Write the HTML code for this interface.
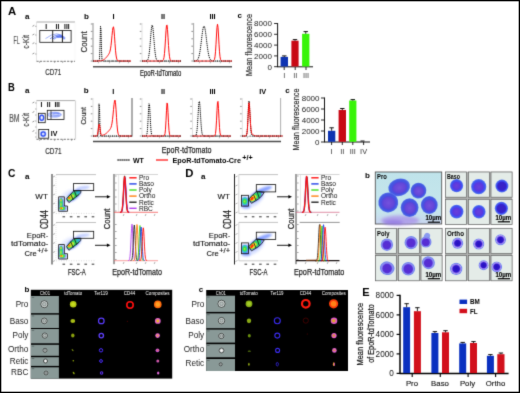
<!DOCTYPE html>
<html><head><meta charset="utf-8"><title>Figure</title>
<style>
html,body{margin:0;padding:0;background:#fff;}
body{width:520px;height:393px;overflow:hidden;font-family:"Liberation Sans",sans-serif;}
svg{display:block;}
text{font-family:"Liberation Sans",sans-serif;}
</style></head><body>
<svg width="520" height="393" viewBox="0 0 520 393">
<defs>
<filter id="b1" x="-30%" y="-30%" width="160%" height="160%"><feGaussianBlur stdDeviation="0.8"/></filter>
<filter id="b05" x="-30%" y="-30%" width="160%" height="160%"><feGaussianBlur stdDeviation="0.45"/></filter>
<filter id="b2" x="-30%" y="-30%" width="160%" height="160%"><feGaussianBlur stdDeviation="1.4"/></filter>
<filter id="soft" x="0" y="0" width="520" height="393" filterUnits="userSpaceOnUse" color-interpolation-filters="sRGB"><feConvolveMatrix order="3" kernelMatrix="0.025 0.155 0.025 0.155 1 0.155 0.025 0.155 0.025" divisor="1.72" edgeMode="duplicate" preserveAlpha="false"/></filter>

<radialGradient id="gPro"><stop offset="0" stop-color="#4a50e0"/><stop offset="0.85" stop-color="#4456e2"/><stop offset="1" stop-color="#5a7cea"/></radialGradient>
<radialGradient id="gProN"><stop offset="0" stop-color="#7452dc"/><stop offset="0.7" stop-color="#6446d8"/><stop offset="1" stop-color="#4a48de"/></radialGradient>
<radialGradient id="gBaso"><stop offset="0" stop-color="#5040e0"/><stop offset="0.8" stop-color="#4050f0"/><stop offset="1" stop-color="#5a80f0"/></radialGradient>
<radialGradient id="gBasoN"><stop offset="0" stop-color="#6a40d8"/><stop offset="0.8" stop-color="#5838e0"/><stop offset="1" stop-color="#4848ee"/></radialGradient>
<radialGradient id="gBasoD"><stop offset="0" stop-color="#3a20c4"/><stop offset="0.8" stop-color="#3422cc"/><stop offset="1" stop-color="#3a40e8"/></radialGradient>
<radialGradient id="gPoly"><stop offset="0" stop-color="#8068e0"/><stop offset="0.8" stop-color="#8c8cf0"/><stop offset="0.93" stop-color="#7088ee"/><stop offset="1" stop-color="#7c98f0"/></radialGradient>
<radialGradient id="gPolyN"><stop offset="0" stop-color="#5a2cd0"/><stop offset="0.85" stop-color="#5430d6"/><stop offset="1" stop-color="#6a50e2"/></radialGradient>
<radialGradient id="gOrtho"><stop offset="0" stop-color="#2810bc"/><stop offset="0.52" stop-color="#3018cc"/><stop offset="0.64" stop-color="#7a60e8"/><stop offset="0.8" stop-color="#b09ceE"/><stop offset="0.9" stop-color="#6c84f2"/><stop offset="1" stop-color="#8aa4f4"/></radialGradient>
<linearGradient id="gProBg" x1="0" y1="0" x2="0" y2="1"><stop offset="0" stop-color="#bfe3ea"/><stop offset="0.75" stop-color="#c6e6ec"/><stop offset="1" stop-color="#c8d4ee"/></linearGradient>

</defs>
<rect x="0" y="0" width="520" height="393" fill="#fff"/>
<g id="all" filter="url(#soft)">
<text x="8" y="15.1" font-size="11.3" font-weight="bold" text-anchor="start" fill="#000" >A</text>
<text x="24.9" y="19.0" font-size="8" font-weight="bold" text-anchor="start" fill="#000" >a</text>
<line x1="36.5" y1="22" x2="75" y2="22" stroke="#888" stroke-width="0.7" />
<line x1="75" y1="22" x2="75" y2="61" stroke="#eee" stroke-width="0.5" />
<line x1="36.5" y1="22" x2="36.5" y2="61" stroke="#ccc" stroke-width="0.5" />
<line x1="36.5" y1="61.3" x2="75" y2="61.3" stroke="#555" stroke-width="0.8" stroke-dasharray="2.2 1.2"/>
<line x1="32.5" y1="26.3" x2="34.3" y2="25.3" stroke="#444" stroke-width="0.6" />
<line x1="35.0" y1="26.3" x2="36.5" y2="26.3" stroke="#666" stroke-width="0.5" />
<line x1="32.5" y1="35" x2="34.3" y2="34" stroke="#444" stroke-width="0.6" />
<line x1="35.0" y1="35" x2="36.5" y2="35" stroke="#666" stroke-width="0.5" />
<line x1="32.5" y1="43.7" x2="34.3" y2="42.7" stroke="#444" stroke-width="0.6" />
<line x1="35.0" y1="43.7" x2="36.5" y2="43.7" stroke="#666" stroke-width="0.5" />
<line x1="32.5" y1="54" x2="34.3" y2="53" stroke="#444" stroke-width="0.6" />
<line x1="35.0" y1="54" x2="36.5" y2="54" stroke="#666" stroke-width="0.5" />
<line x1="40" y1="61" x2="39.5" y2="63" stroke="#666" stroke-width="0.5" />
<line x1="55" y1="61" x2="54.5" y2="63" stroke="#666" stroke-width="0.5" />
<line x1="63" y1="61" x2="62.5" y2="63" stroke="#666" stroke-width="0.5" />
<line x1="72" y1="61" x2="71.5" y2="63" stroke="#666" stroke-width="0.5" />
<g filter="url(#b05)">
<path d="M45.5,38.6 Q57.5,29.5 65.5,38.0" fill="none" stroke="#4060f0" stroke-width="0.9" opacity="0.55"/>
<path d="M50,38.84 Q59.5,31.06 65,38.6" fill="none" stroke="#4060f0" stroke-width="0.9" opacity="0.75"/>
<path d="M52.5,39.06 Q60.5,32.49 64.5,39.15" fill="none" stroke="#4060f0" stroke-width="0.9" opacity="0.85"/>
<path d="M54,39.26 Q61.0,33.79 64,39.65" fill="none" stroke="#4060f0" stroke-width="0.9" opacity="0.6"/>
<ellipse cx="59.5" cy="36.8" rx="3.2" ry="1.3" fill="#4060f0" stroke="none" stroke-width="1" opacity="0.6"/>
</g>
<rect x="39.8" y="30.5" width="31.3" height="11.8" fill="none" stroke="#111" stroke-width="0.8" />
<line x1="52.7" y1="30.5" x2="52.7" y2="42.3" stroke="#111" stroke-width="0.9" />
<line x1="62.4" y1="30.5" x2="62.4" y2="42.3" stroke="#111" stroke-width="1.0" />
<text x="46.2" y="28.7" font-size="6.6" font-weight="bold" text-anchor="middle" fill="#000" >I</text>
<text x="57.4" y="28.7" font-size="6.6" font-weight="bold" text-anchor="middle" fill="#000" >II</text>
<text x="66.8" y="28.7" font-size="6.6" font-weight="bold" text-anchor="middle" fill="#000" >III</text>
<text x="13.6" y="44.4" font-size="10" font-weight="normal" text-anchor="start" fill="#555" textLength="6.1" lengthAdjust="spacingAndGlyphs"  stroke="#555" stroke-width="0.2">FL</text>
<text x="28.8" y="48.8" font-size="9.5" font-weight="normal" text-anchor="start" fill="#444" textLength="13.8" lengthAdjust="spacingAndGlyphs" transform="rotate(-90 28.8 48.8)"  stroke="#444" stroke-width="0.2">c-Kit</text>
<text x="45.3" y="75" font-size="9.2" font-weight="normal" text-anchor="start" fill="#333" textLength="16" lengthAdjust="spacingAndGlyphs"  stroke="#333" stroke-width="0.2">CD71</text>
<text x="84" y="18.8" font-size="8" font-weight="bold" text-anchor="start" fill="#000" >b</text>
<text x="113.5" y="19.2" font-size="7.4" font-weight="bold" text-anchor="middle" fill="#000" >I</text>
<text x="163" y="19.2" font-size="7.4" font-weight="bold" text-anchor="middle" fill="#000" >II</text>
<text x="212.5" y="19.2" font-size="7.4" font-weight="bold" text-anchor="middle" fill="#000" >III</text>
<text x="87" y="52.4" font-size="9" font-weight="normal" text-anchor="start" fill="#333" textLength="21" lengthAdjust="spacingAndGlyphs" transform="rotate(-90 87 52.4)"  stroke="#333" stroke-width="0.2">Count</text>
<line x1="93" y1="23" x2="93" y2="62.0" stroke="#444" stroke-width="0.6" />
<line x1="93" y1="61.5" x2="131" y2="61.5" stroke="#999" stroke-width="0.4" />
<line x1="90.8" y1="24.0" x2="92.4" y2="24.0" stroke="#444" stroke-width="0.6" />
<line x1="90.8" y1="31.4" x2="92.4" y2="31.4" stroke="#444" stroke-width="0.6" />
<line x1="90.8" y1="38.8" x2="92.4" y2="38.8" stroke="#444" stroke-width="0.6" />
<line x1="90.8" y1="46.2" x2="92.4" y2="46.2" stroke="#444" stroke-width="0.6" />
<line x1="90.8" y1="53.6" x2="92.4" y2="53.6" stroke="#444" stroke-width="0.6" />
<line x1="90.8" y1="61.0" x2="92.4" y2="61.0" stroke="#444" stroke-width="0.6" />
<line x1="99" y1="61.6" x2="98.2" y2="63.4" stroke="#777" stroke-width="0.5" />
<line x1="110" y1="61.6" x2="109.2" y2="63.4" stroke="#777" stroke-width="0.5" />
<line x1="120" y1="61.6" x2="119.2" y2="63.4" stroke="#777" stroke-width="0.5" />
<line x1="129" y1="61.6" x2="128.2" y2="63.4" stroke="#777" stroke-width="0.5" />
<path d="M93.00,61.00 L93.50,61.00 L94.00,61.00 L94.50,61.00 L95.00,61.00 L95.50,61.00 L96.00,61.00 L96.50,61.00 L97.00,61.00 L97.50,61.00 L98.00,61.00 L98.50,61.00 L99.00,60.88 L99.50,58.89 L100.00,46.93 L100.50,26.38 L101.00,29.68 L101.50,50.57 L102.00,59.72 L102.50,60.94 L103.00,61.00 L103.50,61.00 L104.00,61.00 L104.50,61.00 L105.00,61.00 L105.50,61.00 L106.00,61.00 L106.50,61.00 L107.00,61.00 L107.50,61.00 L108.00,61.00 L108.50,61.00 L109.00,61.00 L109.50,61.00 L110.00,61.00 L110.50,61.00 L111.00,61.00 L111.50,61.00 L112.00,61.00 L112.50,61.00 L113.00,61.00 L113.50,61.00 L114.00,61.00 L114.50,61.00 L115.00,61.00 L115.50,61.00 L116.00,61.00 L116.50,61.00 L117.00,61.00 L117.50,61.00 L118.00,61.00 L118.50,61.00 L119.00,61.00 L119.50,61.00 L120.00,61.00 L120.50,61.00 L121.00,61.00 L121.50,61.00 L122.00,61.00 L122.50,61.00 L123.00,61.00 L123.50,61.00 L124.00,61.00 L124.50,61.00 L125.00,61.00 L125.50,61.00 L126.00,61.00 L126.50,61.00 L127.00,61.00 L127.50,61.00 L128.00,61.00 L128.50,61.00 L129.00,61.00 L129.50,61.00 L130.00,61.00 L130.50,61.00 L131.00,61.00" fill="none" stroke="#000" stroke-width="1.0" stroke-dasharray="1.2 0.8"/>
<path d="M93.00,61.00 L93.50,61.00 L94.00,61.00 L94.50,61.00 L95.00,61.00 L95.50,61.00 L96.00,60.99 L96.50,60.99 L97.00,60.98 L97.50,60.98 L98.00,60.97 L98.50,60.95 L99.00,60.93 L99.50,60.89 L100.00,60.85 L100.50,60.79 L101.00,60.71 L101.50,60.60 L102.00,60.47 L102.50,60.30 L103.00,60.09 L103.50,59.84 L104.00,59.53 L104.50,59.17 L105.00,58.76 L105.50,58.28 L106.00,57.76 L106.50,57.18 L107.00,56.57 L107.50,55.92 L108.00,55.25 L108.50,54.54 L109.00,53.73 L109.50,52.69 L110.00,51.19 L110.50,48.90 L111.00,45.52 L111.50,40.96 L112.00,35.62 L112.50,30.61 L113.00,27.34 L113.50,26.87 L114.00,29.97 L114.50,36.20 L115.00,43.57 L115.50,50.19 L116.00,55.03 L116.50,58.01 L117.00,59.60 L117.50,60.37 L118.00,60.71 L118.50,60.87 L119.00,60.94 L119.50,60.97 L120.00,60.99 L120.50,60.99 L121.00,61.00 L121.50,61.00 L122.00,61.00 L122.50,61.00 L123.00,61.00 L123.50,61.00 L124.00,61.00 L124.50,61.00 L125.00,61.00 L125.50,61.00 L126.00,61.00 L126.50,61.00 L127.00,61.00 L127.50,61.00 L128.00,61.00 L128.50,61.00 L129.00,61.00 L129.50,61.00 L130.00,61.00 L130.50,61.00 L131.00,61.00" fill="none" stroke="#ff0808" stroke-width="1.0" />
<line x1="93" y1="61" x2="131" y2="61" stroke="#222" stroke-width="0.7" stroke-dasharray="1.2 2.6"/>
<line x1="142" y1="23" x2="142" y2="62.0" stroke="#ccc" stroke-width="0.6" />
<line x1="142" y1="61.5" x2="181" y2="61.5" stroke="#999" stroke-width="0.4" />
<line x1="139.8" y1="24.0" x2="141.4" y2="24.0" stroke="#444" stroke-width="0.6" />
<line x1="139.8" y1="31.4" x2="141.4" y2="31.4" stroke="#444" stroke-width="0.6" />
<line x1="139.8" y1="38.8" x2="141.4" y2="38.8" stroke="#444" stroke-width="0.6" />
<line x1="139.8" y1="46.2" x2="141.4" y2="46.2" stroke="#444" stroke-width="0.6" />
<line x1="139.8" y1="53.6" x2="141.4" y2="53.6" stroke="#444" stroke-width="0.6" />
<line x1="139.8" y1="61.0" x2="141.4" y2="61.0" stroke="#444" stroke-width="0.6" />
<line x1="148" y1="61.6" x2="147.2" y2="63.4" stroke="#777" stroke-width="0.5" />
<line x1="160" y1="61.6" x2="159.2" y2="63.4" stroke="#777" stroke-width="0.5" />
<line x1="170" y1="61.6" x2="169.2" y2="63.4" stroke="#777" stroke-width="0.5" />
<line x1="179" y1="61.6" x2="178.2" y2="63.4" stroke="#777" stroke-width="0.5" />
<path d="M142.00,61.00 L142.50,61.00 L143.00,61.00 L143.50,61.00 L144.00,61.00 L144.50,61.00 L145.00,61.00 L145.50,60.98 L146.00,60.95 L146.50,60.87 L147.00,60.67 L147.50,60.21 L148.00,59.30 L148.50,57.63 L149.00,54.88 L149.50,50.80 L150.00,45.42 L150.50,39.16 L151.00,32.94 L151.50,27.93 L152.00,25.25 L152.50,25.56 L153.00,28.77 L153.50,34.13 L154.00,40.45 L154.50,46.58 L155.00,51.73 L155.50,55.53 L156.00,58.04 L156.50,59.53 L157.00,60.33 L157.50,60.72 L158.00,60.89 L158.50,60.96 L159.00,60.99 L159.50,61.00 L160.00,61.00 L160.50,61.00 L161.00,61.00 L161.50,61.00 L162.00,61.00 L162.50,61.00 L163.00,61.00 L163.50,61.00 L164.00,61.00 L164.50,61.00 L165.00,61.00 L165.50,61.00 L166.00,61.00 L166.50,61.00 L167.00,61.00 L167.50,61.00 L168.00,61.00 L168.50,61.00 L169.00,61.00 L169.50,61.00 L170.00,61.00 L170.50,61.00 L171.00,61.00 L171.50,61.00 L172.00,61.00 L172.50,61.00 L173.00,61.00 L173.50,61.00 L174.00,61.00 L174.50,61.00 L175.00,61.00 L175.50,61.00 L176.00,61.00 L176.50,61.00 L177.00,61.00 L177.50,61.00 L178.00,61.00 L178.50,61.00 L179.00,61.00 L179.50,61.00 L180.00,61.00 L180.50,61.00 L181.00,61.00" fill="none" stroke="#000" stroke-width="1.0" stroke-dasharray="1.2 0.8"/>
<path d="M142.00,61.00 L142.50,61.00 L143.00,61.00 L143.50,61.00 L144.00,61.00 L144.50,61.00 L145.00,61.00 L145.50,61.00 L146.00,61.00 L146.50,61.00 L147.00,61.00 L147.50,61.00 L148.00,61.00 L148.50,61.00 L149.00,61.00 L149.50,61.00 L150.00,61.00 L150.50,61.00 L151.00,61.00 L151.50,61.00 L152.00,61.00 L152.50,61.00 L153.00,61.00 L153.50,61.00 L154.00,61.00 L154.50,61.00 L155.00,61.00 L155.50,61.00 L156.00,61.00 L156.50,61.00 L157.00,61.00 L157.50,61.00 L158.00,61.00 L158.50,61.00 L159.00,61.00 L159.50,61.00 L160.00,61.00 L160.50,61.00 L161.00,61.00 L161.50,60.99 L162.00,60.96 L162.50,60.85 L163.00,60.49 L163.50,59.54 L164.00,57.41 L164.50,53.37 L165.00,47.00 L165.50,38.86 L166.00,30.80 L166.50,25.46 L167.00,24.93 L167.50,29.43 L168.00,37.16 L168.50,45.48 L169.00,52.28 L169.50,56.78 L170.00,59.24 L170.50,60.36 L171.00,60.80 L171.50,60.95 L172.00,60.99 L172.50,61.00 L173.00,61.00 L173.50,61.00 L174.00,61.00 L174.50,61.00 L175.00,61.00 L175.50,61.00 L176.00,61.00 L176.50,61.00 L177.00,61.00 L177.50,61.00 L178.00,61.00 L178.50,61.00 L179.00,61.00 L179.50,61.00 L180.00,61.00 L180.50,61.00 L181.00,61.00" fill="none" stroke="#ff0808" stroke-width="1.0" />
<line x1="142" y1="61" x2="181" y2="61" stroke="#222" stroke-width="0.7" stroke-dasharray="1.2 2.6"/>
<line x1="193.6" y1="23" x2="193.6" y2="62.0" stroke="#666" stroke-width="0.6" />
<line x1="193.6" y1="61.5" x2="232" y2="61.5" stroke="#999" stroke-width="0.4" />
<line x1="191.4" y1="24.0" x2="193.0" y2="24.0" stroke="#444" stroke-width="0.6" />
<line x1="191.4" y1="31.4" x2="193.0" y2="31.4" stroke="#444" stroke-width="0.6" />
<line x1="191.4" y1="38.8" x2="193.0" y2="38.8" stroke="#444" stroke-width="0.6" />
<line x1="191.4" y1="46.2" x2="193.0" y2="46.2" stroke="#444" stroke-width="0.6" />
<line x1="191.4" y1="53.6" x2="193.0" y2="53.6" stroke="#444" stroke-width="0.6" />
<line x1="191.4" y1="61.0" x2="193.0" y2="61.0" stroke="#444" stroke-width="0.6" />
<line x1="200" y1="61.6" x2="199.2" y2="63.4" stroke="#777" stroke-width="0.5" />
<line x1="211" y1="61.6" x2="210.2" y2="63.4" stroke="#777" stroke-width="0.5" />
<line x1="221" y1="61.6" x2="220.2" y2="63.4" stroke="#777" stroke-width="0.5" />
<line x1="230" y1="61.6" x2="229.2" y2="63.4" stroke="#777" stroke-width="0.5" />
<path d="M194.00,60.99 L194.50,60.97 L195.00,60.95 L195.50,60.89 L196.00,60.79 L196.50,60.61 L197.00,60.31 L197.50,59.81 L198.00,59.04 L198.50,57.89 L199.00,56.26 L199.50,54.07 L200.00,51.27 L200.50,47.86 L201.00,43.96 L201.50,39.77 L202.00,35.58 L202.50,31.77 L203.00,28.69 L203.50,26.69 L204.00,26.00 L204.50,26.69 L205.00,28.69 L205.50,31.77 L206.00,35.58 L206.50,39.77 L207.00,43.96 L207.50,47.86 L208.00,51.27 L208.50,54.07 L209.00,56.26 L209.50,57.89 L210.00,59.04 L210.50,59.81 L211.00,60.31 L211.50,60.61 L212.00,60.79 L212.50,60.89 L213.00,60.95 L213.50,60.97 L214.00,60.99 L214.50,60.99 L215.00,61.00 L215.50,61.00 L216.00,61.00 L216.50,61.00 L217.00,61.00 L217.50,61.00 L218.00,61.00 L218.50,61.00 L219.00,61.00 L219.50,61.00 L220.00,61.00 L220.50,61.00 L221.00,61.00 L221.50,61.00 L222.00,61.00 L222.50,61.00 L223.00,61.00 L223.50,61.00 L224.00,61.00 L224.50,61.00 L225.00,61.00 L225.50,61.00 L226.00,61.00 L226.50,61.00 L227.00,61.00 L227.50,61.00 L228.00,61.00 L228.50,61.00 L229.00,61.00 L229.50,61.00 L230.00,61.00 L230.50,61.00 L231.00,61.00 L231.50,61.00 L232.00,61.00" fill="none" stroke="#000" stroke-width="1.0" stroke-dasharray="1.2 0.8"/>
<path d="M194.00,61.00 L194.50,61.00 L195.00,61.00 L195.50,61.00 L196.00,61.00 L196.50,61.00 L197.00,61.00 L197.50,61.00 L198.00,61.00 L198.50,61.00 L199.00,61.00 L199.50,61.00 L200.00,61.00 L200.50,61.00 L201.00,61.00 L201.50,61.00 L202.00,61.00 L202.50,61.00 L203.00,61.00 L203.50,61.00 L204.00,61.00 L204.50,61.00 L205.00,61.00 L205.50,61.00 L206.00,61.00 L206.50,61.00 L207.00,61.00 L207.50,61.00 L208.00,61.00 L208.50,61.00 L209.00,61.00 L209.50,61.00 L210.00,61.00 L210.50,61.00 L211.00,61.00 L211.50,61.00 L212.00,61.00 L212.50,60.99 L213.00,60.97 L213.50,60.86 L214.00,60.48 L214.50,59.38 L215.00,56.80 L215.50,51.82 L216.00,44.15 L216.50,35.00 L217.00,27.26 L217.50,24.20 L218.00,27.26 L218.50,35.00 L219.00,44.15 L219.50,51.82 L220.00,56.80 L220.50,59.38 L221.00,60.48 L221.50,60.86 L222.00,60.97 L222.50,60.99 L223.00,61.00 L223.50,61.00 L224.00,61.00 L224.50,61.00 L225.00,61.00 L225.50,61.00 L226.00,61.00 L226.50,61.00 L227.00,61.00 L227.50,61.00 L228.00,61.00 L228.50,61.00 L229.00,61.00 L229.50,61.00 L230.00,61.00 L230.50,61.00 L231.00,61.00 L231.50,61.00 L232.00,61.00" fill="none" stroke="#ff0808" stroke-width="1.0" />
<line x1="194" y1="61" x2="232" y2="61" stroke="#222" stroke-width="0.7" stroke-dasharray="1.2 2.6"/>
<line x1="93" y1="66.8" x2="232" y2="66.8" stroke="#555" stroke-width="1.5" />
<text x="140" y="75.9" font-size="8.2" font-weight="normal" text-anchor="start" fill="#222" textLength="41.2" lengthAdjust="spacingAndGlyphs"  stroke="#222" stroke-width="0.22">EpoR-tdTomato</text>
<text x="237.6" y="18.3" font-size="8" font-weight="bold" text-anchor="start" fill="#000" >c</text>
<text x="252" y="76" font-size="9" font-weight="normal" text-anchor="start" fill="#222" textLength="62" lengthAdjust="spacingAndGlyphs" transform="rotate(-90 252 76)"  stroke="#222" stroke-width="0.15">Mean fluorescence</text>
<line x1="277.6" y1="23" x2="277.6" y2="67" stroke="#111" stroke-width="1" />
<line x1="277.1" y1="66.8" x2="313" y2="66.8" stroke="#111" stroke-width="1" />
<line x1="274.1" y1="23.5" x2="277.6" y2="23.5" stroke="#111" stroke-width="0.9" />
<text x="271.9" y="26.3" font-size="8" font-weight="normal" text-anchor="end" fill="#222" >8000</text>
<line x1="274.1" y1="34.3" x2="277.6" y2="34.3" stroke="#111" stroke-width="0.9" />
<text x="271.9" y="37.099999999999994" font-size="8" font-weight="normal" text-anchor="end" fill="#222" >6000</text>
<line x1="274.1" y1="45.1" x2="277.6" y2="45.1" stroke="#111" stroke-width="0.9" />
<text x="271.9" y="47.9" font-size="8" font-weight="normal" text-anchor="end" fill="#222" >4000</text>
<line x1="274.1" y1="55.900000000000006" x2="277.6" y2="55.900000000000006" stroke="#111" stroke-width="0.9" />
<text x="271.9" y="58.7" font-size="8" font-weight="normal" text-anchor="end" fill="#222" >2000</text>
<line x1="274.1" y1="66.7" x2="277.6" y2="66.7" stroke="#111" stroke-width="0.9" />
<text x="271.9" y="69.5" font-size="8" font-weight="normal" text-anchor="end" fill="#222" >0</text>
<rect x="280.6" y="56.9" width="7.399999999999977" height="9.600000000000001" fill="#0e34b2" stroke="none" stroke-width="1" />
<line x1="284.3" y1="56.9" x2="284.3" y2="55.9" stroke="#111" stroke-width="0.9" />
<line x1="282.1" y1="55.9" x2="286.5" y2="55.9" stroke="#111" stroke-width="1.0" />
<rect x="291.4" y="40.7" width="7.2000000000000455" height="25.799999999999997" fill="#c80814" stroke="none" stroke-width="1" />
<line x1="295.0" y1="40.7" x2="295.0" y2="39.6" stroke="#111" stroke-width="0.9" />
<line x1="292.8" y1="39.6" x2="297.2" y2="39.6" stroke="#111" stroke-width="1.0" />
<rect x="302.1" y="33.8" width="7.2999999999999545" height="32.7" fill="#38f408" stroke="none" stroke-width="1" />
<line x1="305.75" y1="33.8" x2="305.75" y2="31.6" stroke="#111" stroke-width="0.9" />
<line x1="303.55" y1="31.6" x2="307.95" y2="31.6" stroke="#111" stroke-width="1.0" />
<line x1="284.2" y1="67" x2="284.2" y2="70" stroke="#111" stroke-width="0.9" />
<text x="284.2" y="78.3" font-size="7.4" font-weight="normal" text-anchor="middle" fill="#444" >I</text>
<line x1="295.2" y1="67" x2="295.2" y2="70" stroke="#111" stroke-width="0.9" />
<text x="295.2" y="78.3" font-size="7.4" font-weight="normal" text-anchor="middle" fill="#444" >II</text>
<line x1="306" y1="67" x2="306" y2="70" stroke="#111" stroke-width="0.9" />
<text x="306" y="78.3" font-size="7.4" font-weight="normal" text-anchor="middle" fill="#444" >III</text>
<text x="8" y="90.6" font-size="11.3" font-weight="bold" text-anchor="start" fill="#000" textLength="6.8" lengthAdjust="spacingAndGlyphs" >B</text>
<text x="24.9" y="93.1" font-size="8" font-weight="bold" text-anchor="start" fill="#000" >a</text>
<line x1="36.5" y1="100.6" x2="75" y2="100.6" stroke="#888" stroke-width="0.7" />
<line x1="75" y1="100.6" x2="75" y2="139" stroke="#eee" stroke-width="0.5" />
<line x1="36.5" y1="100.6" x2="36.5" y2="139" stroke="#ccc" stroke-width="0.5" />
<line x1="36.5" y1="139.3" x2="75" y2="139.3" stroke="#555" stroke-width="0.8" stroke-dasharray="2.2 1.2"/>
<line x1="75.6" y1="100.4" x2="75.6" y2="139.5" stroke="#bbb" stroke-width="0.6" />
<line x1="32.5" y1="103" x2="34.3" y2="102" stroke="#444" stroke-width="0.6" />
<line x1="32.5" y1="112.5" x2="34.3" y2="111.5" stroke="#444" stroke-width="0.6" />
<line x1="32.5" y1="122" x2="34.3" y2="121" stroke="#444" stroke-width="0.6" />
<line x1="32.5" y1="131.5" x2="34.3" y2="130.5" stroke="#444" stroke-width="0.6" />
<line x1="35.0" y1="103" x2="36.5" y2="103" stroke="#666" stroke-width="0.5" />
<line x1="35.0" y1="109" x2="36.5" y2="109" stroke="#666" stroke-width="0.5" />
<line x1="35.0" y1="115" x2="36.5" y2="115" stroke="#666" stroke-width="0.5" />
<line x1="35.0" y1="121" x2="36.5" y2="121" stroke="#666" stroke-width="0.5" />
<line x1="35.0" y1="127" x2="36.5" y2="127" stroke="#666" stroke-width="0.5" />
<line x1="35.0" y1="133" x2="36.5" y2="133" stroke="#666" stroke-width="0.5" />
<line x1="35.0" y1="137" x2="36.5" y2="137" stroke="#666" stroke-width="0.5" />
<line x1="40" y1="139" x2="39.5" y2="141" stroke="#666" stroke-width="0.5" />
<line x1="55" y1="139" x2="54.5" y2="141" stroke="#666" stroke-width="0.5" />
<line x1="63" y1="139" x2="62.5" y2="141" stroke="#666" stroke-width="0.5" />
<line x1="72" y1="139" x2="71.5" y2="141" stroke="#666" stroke-width="0.5" />
<g filter="url(#b05)">
<ellipse cx="41.7" cy="117.8" rx="2.7" ry="3.6" fill="#9db0ff" stroke="none" stroke-width="1" opacity="0.55"/>
<ellipse cx="41.7" cy="117.8" rx="1.9" ry="2.6" fill="none" stroke="#2848f0" stroke-width="1.3" opacity="0.95"/>
<ellipse cx="41.7" cy="117.8" rx="0.9" ry="1.2" fill="#fff" stroke="none" stroke-width="1" opacity="0.7"/>
<ellipse cx="54.6" cy="114.7" rx="7.4" ry="3.0" fill="#b4c2ff" stroke="none" stroke-width="1" opacity="0.5"/>
<ellipse cx="54.6" cy="114.7" rx="6.6" ry="2.5" fill="none" stroke="#3a5cf0" stroke-width="0.5" opacity="0.6"/>
<ellipse cx="55.3" cy="114.5" rx="5.0" ry="1.8" fill="none" stroke="#3a5cf0" stroke-width="0.6" opacity="0.7"/>
<ellipse cx="56" cy="114.3" rx="3.2" ry="1.0" fill="none" stroke="#3a5cf0" stroke-width="0.6" opacity="0.8"/>
<ellipse cx="43.2" cy="134" rx="3.4" ry="3.4" fill="#9db0ff" stroke="none" stroke-width="1" opacity="0.6"/>
<ellipse cx="43.2" cy="134" rx="2.1" ry="2.1" fill="none" stroke="#2848f0" stroke-width="1.2" opacity="0.95"/>
<ellipse cx="43.2" cy="134" rx="0.9" ry="0.9" fill="#dde4ff" stroke="none" stroke-width="1" opacity="0.8"/>
</g>
<rect x="38.4" y="113.3" width="6.8" height="9.4" fill="none" stroke="#111" stroke-width="0.8" />
<rect x="47.3" y="110.3" width="16.7" height="9.1" fill="none" stroke="#111" stroke-width="0.8" />
<line x1="51" y1="110.3" x2="51" y2="119.4" stroke="#111" stroke-width="0.7" />
<rect x="38.8" y="129.4" width="9.9" height="8.8" fill="none" stroke="#111" stroke-width="0.8" />
<text x="41.5" y="106.8" font-size="6.6" font-weight="bold" text-anchor="middle" fill="#000" >I</text>
<text x="48.7" y="106.8" font-size="6.6" font-weight="bold" text-anchor="middle" fill="#000" >II</text>
<text x="57.2" y="106.8" font-size="6.6" font-weight="bold" text-anchor="middle" fill="#000" >III</text>
<text x="50.8" y="135.9" font-size="7" font-weight="bold" text-anchor="start" fill="#000" >IV</text>
<text x="9.2" y="122.3" font-size="10" font-weight="normal" text-anchor="start" fill="#555" textLength="10.4" lengthAdjust="spacingAndGlyphs"  stroke="#555" stroke-width="0.2">BM</text>
<text x="28.6" y="126.8" font-size="9.5" font-weight="normal" text-anchor="start" fill="#444" textLength="13.8" lengthAdjust="spacingAndGlyphs" transform="rotate(-90 28.6 126.8)"  stroke="#444" stroke-width="0.2">c-Kit</text>
<text x="45.2" y="154" font-size="9.2" font-weight="normal" text-anchor="start" fill="#333" textLength="16.3" lengthAdjust="spacingAndGlyphs"  stroke="#333" stroke-width="0.2">CD71</text>
<text x="83.8" y="92.8" font-size="8" font-weight="bold" text-anchor="start" fill="#000" >b</text>
<text x="113.3" y="93.9" font-size="7.4" font-weight="bold" text-anchor="middle" fill="#000" >I</text>
<text x="163" y="93.9" font-size="7.4" font-weight="bold" text-anchor="middle" fill="#000" >II</text>
<text x="212.5" y="93.9" font-size="7.4" font-weight="bold" text-anchor="middle" fill="#000" >III</text>
<text x="262.8" y="93.9" font-size="7.4" font-weight="bold" text-anchor="middle" fill="#000" >IV</text>
<text x="86.5" y="124.6" font-size="8" font-weight="normal" text-anchor="start" fill="#333" textLength="17.3" lengthAdjust="spacingAndGlyphs" transform="rotate(-90 86.5 124.6)"  stroke="#333" stroke-width="0.2">Count</text>
<line x1="93" y1="98" x2="93" y2="137.0" stroke="#ccc" stroke-width="0.6" />
<line x1="93" y1="136.5" x2="132" y2="136.5" stroke="#999" stroke-width="0.4" />
<line x1="90.8" y1="99.0" x2="92.4" y2="99.0" stroke="#444" stroke-width="0.6" />
<line x1="90.8" y1="106.4" x2="92.4" y2="106.4" stroke="#444" stroke-width="0.6" />
<line x1="90.8" y1="113.8" x2="92.4" y2="113.8" stroke="#444" stroke-width="0.6" />
<line x1="90.8" y1="121.2" x2="92.4" y2="121.2" stroke="#444" stroke-width="0.6" />
<line x1="90.8" y1="128.6" x2="92.4" y2="128.6" stroke="#444" stroke-width="0.6" />
<line x1="90.8" y1="136.0" x2="92.4" y2="136.0" stroke="#444" stroke-width="0.6" />
<line x1="99" y1="136.6" x2="98.2" y2="138.4" stroke="#777" stroke-width="0.5" />
<line x1="110" y1="136.6" x2="109.2" y2="138.4" stroke="#777" stroke-width="0.5" />
<line x1="120" y1="136.6" x2="119.2" y2="138.4" stroke="#777" stroke-width="0.5" />
<line x1="129" y1="136.6" x2="128.2" y2="138.4" stroke="#777" stroke-width="0.5" />
<line x1="132" y1="98" x2="132" y2="136.6" stroke="#111" stroke-width="0.7" />
<path d="M93.00,136.00 L93.50,136.00 L94.00,136.00 L94.50,136.00 L95.00,136.00 L95.50,136.00 L96.00,136.00 L96.50,136.00 L97.00,136.00 L97.50,135.97 L98.00,134.99 L98.50,125.41 L99.00,103.84 L99.50,107.57 L100.00,128.69 L100.50,135.45 L101.00,135.99 L101.50,136.00 L102.00,136.00 L102.50,136.00 L103.00,136.00 L103.50,136.00 L104.00,136.00 L104.50,136.00 L105.00,136.00 L105.50,136.00 L106.00,136.00 L106.50,136.00 L107.00,136.00 L107.50,136.00 L108.00,136.00 L108.50,136.00 L109.00,136.00 L109.50,136.00 L110.00,136.00 L110.50,136.00 L111.00,136.00 L111.50,136.00 L112.00,136.00 L112.50,136.00 L113.00,136.00 L113.50,136.00 L114.00,136.00 L114.50,136.00 L115.00,136.00 L115.50,136.00 L116.00,136.00 L116.50,136.00 L117.00,136.00 L117.50,136.00 L118.00,136.00 L118.50,136.00 L119.00,136.00 L119.50,136.00 L120.00,136.00 L120.50,136.00 L121.00,136.00 L121.50,136.00 L122.00,136.00 L122.50,136.00 L123.00,136.00 L123.50,136.00 L124.00,136.00 L124.50,136.00 L125.00,136.00 L125.50,136.00 L126.00,136.00 L126.50,136.00 L127.00,136.00 L127.50,136.00 L128.00,136.00 L128.50,136.00 L129.00,136.00 L129.50,136.00 L130.00,136.00 L130.50,136.00 L131.00,136.00 L131.50,136.00 L132.00,136.00" fill="none" stroke="#000" stroke-width="1.0" stroke-dasharray="1.2 0.8"/>
<path d="M93.00,136.00 L93.50,136.00 L94.00,135.99 L94.50,135.99 L95.00,135.99 L95.50,135.98 L96.00,135.96 L96.50,135.88 L97.00,135.53 L97.50,134.31 L98.00,131.48 L98.50,127.33 L99.00,124.17 L99.50,124.52 L100.00,128.04 L100.50,131.95 L101.00,134.32 L101.50,135.20 L102.00,135.34 L102.50,135.25 L103.00,135.11 L103.50,134.93 L104.00,134.72 L104.50,134.48 L105.00,134.21 L105.50,133.90 L106.00,133.54 L106.50,133.15 L107.00,132.71 L107.50,132.23 L108.00,131.71 L108.50,131.16 L109.00,130.57 L109.50,129.96 L110.00,129.28 L110.50,128.47 L111.00,127.37 L111.50,125.73 L112.00,123.26 L112.50,119.70 L113.00,115.03 L113.50,109.65 L114.00,104.53 L114.50,101.03 L115.00,100.10 L115.50,102.72 L116.00,109.20 L116.50,117.31 L117.00,124.70 L117.50,130.02 L118.00,133.19 L118.50,134.79 L119.00,135.50 L119.50,135.79 L120.00,135.90 L120.50,135.95 L121.00,135.97 L121.50,135.98 L122.00,135.99 L122.50,135.99 L123.00,136.00 L123.50,136.00 L124.00,136.00 L124.50,136.00 L125.00,136.00 L125.50,136.00 L126.00,136.00 L126.50,136.00 L127.00,136.00 L127.50,136.00 L128.00,136.00 L128.50,136.00 L129.00,136.00 L129.50,136.00 L130.00,136.00 L130.50,136.00 L131.00,136.00 L131.50,136.00 L132.00,136.00" fill="none" stroke="#ff0808" stroke-width="1.0" />
<line x1="93" y1="136" x2="132" y2="136" stroke="#222" stroke-width="0.7" stroke-dasharray="1.2 2.6"/>
<line x1="142" y1="98" x2="142" y2="137.0" stroke="#ccc" stroke-width="0.6" />
<line x1="142" y1="136.5" x2="181" y2="136.5" stroke="#999" stroke-width="0.4" />
<line x1="139.8" y1="99.0" x2="141.4" y2="99.0" stroke="#444" stroke-width="0.6" />
<line x1="139.8" y1="106.4" x2="141.4" y2="106.4" stroke="#444" stroke-width="0.6" />
<line x1="139.8" y1="113.8" x2="141.4" y2="113.8" stroke="#444" stroke-width="0.6" />
<line x1="139.8" y1="121.2" x2="141.4" y2="121.2" stroke="#444" stroke-width="0.6" />
<line x1="139.8" y1="128.6" x2="141.4" y2="128.6" stroke="#444" stroke-width="0.6" />
<line x1="139.8" y1="136.0" x2="141.4" y2="136.0" stroke="#444" stroke-width="0.6" />
<line x1="148" y1="136.6" x2="147.2" y2="138.4" stroke="#777" stroke-width="0.5" />
<line x1="160" y1="136.6" x2="159.2" y2="138.4" stroke="#777" stroke-width="0.5" />
<line x1="170" y1="136.6" x2="169.2" y2="138.4" stroke="#777" stroke-width="0.5" />
<line x1="179" y1="136.6" x2="178.2" y2="138.4" stroke="#777" stroke-width="0.5" />
<path d="M142.00,136.00 L142.50,136.00 L143.00,136.00 L143.50,136.00 L144.00,136.00 L144.50,136.00 L145.00,136.00 L145.50,135.98 L146.00,135.89 L146.50,135.42 L147.00,133.74 L147.50,129.34 L148.00,121.14 L148.50,110.85 L149.00,103.72 L149.50,104.61 L150.00,112.85 L150.50,123.06 L151.00,130.52 L151.50,134.24 L152.00,135.57 L152.50,135.92 L153.00,135.99 L153.50,136.00 L154.00,136.00 L154.50,136.00 L155.00,136.00 L155.50,136.00 L156.00,136.00 L156.50,136.00 L157.00,136.00 L157.50,136.00 L158.00,136.00 L158.50,136.00 L159.00,136.00 L159.50,136.00 L160.00,136.00 L160.50,136.00 L161.00,136.00 L161.50,136.00 L162.00,136.00 L162.50,136.00 L163.00,136.00 L163.50,136.00 L164.00,136.00 L164.50,136.00 L165.00,136.00 L165.50,136.00 L166.00,136.00 L166.50,136.00 L167.00,136.00 L167.50,136.00 L168.00,136.00 L168.50,136.00 L169.00,136.00 L169.50,136.00 L170.00,136.00 L170.50,136.00 L171.00,136.00 L171.50,136.00 L172.00,136.00 L172.50,136.00 L173.00,136.00 L173.50,136.00 L174.00,136.00 L174.50,136.00 L175.00,136.00 L175.50,136.00 L176.00,136.00 L176.50,136.00 L177.00,136.00 L177.50,136.00 L178.00,136.00 L178.50,136.00 L179.00,136.00 L179.50,136.00 L180.00,136.00 L180.50,136.00 L181.00,136.00" fill="none" stroke="#000" stroke-width="1.0" stroke-dasharray="1.2 0.8"/>
<path d="M142.00,136.00 L142.50,136.00 L143.00,136.00 L143.50,136.00 L144.00,136.00 L144.50,136.00 L145.00,136.00 L145.50,136.00 L146.00,136.00 L146.50,136.00 L147.00,136.00 L147.50,136.00 L148.00,136.00 L148.50,136.00 L149.00,136.00 L149.50,136.00 L150.00,136.00 L150.50,136.00 L151.00,136.00 L151.50,136.00 L152.00,136.00 L152.50,136.00 L153.00,136.00 L153.50,136.00 L154.00,136.00 L154.50,136.00 L155.00,136.00 L155.50,136.00 L156.00,136.00 L156.50,136.00 L157.00,136.00 L157.50,136.00 L158.00,136.00 L158.50,136.00 L159.00,136.00 L159.50,136.00 L160.00,136.00 L160.50,136.00 L161.00,136.00 L161.50,136.00 L162.00,136.00 L162.50,136.00 L163.00,136.00 L163.50,135.98 L164.00,135.88 L164.50,135.40 L165.00,133.69 L165.50,129.18 L166.00,120.78 L166.50,110.24 L167.00,102.94 L167.50,103.84 L168.00,112.29 L168.50,122.75 L169.00,130.38 L169.50,134.20 L170.00,135.56 L170.50,135.92 L171.00,135.99 L171.50,136.00 L172.00,136.00 L172.50,136.00 L173.00,136.00 L173.50,136.00 L174.00,136.00 L174.50,136.00 L175.00,136.00 L175.50,136.00 L176.00,136.00 L176.50,136.00 L177.00,136.00 L177.50,136.00 L178.00,136.00 L178.50,136.00 L179.00,136.00 L179.50,136.00 L180.00,136.00 L180.50,136.00 L181.00,136.00" fill="none" stroke="#ff0808" stroke-width="1.0" />
<line x1="142" y1="136" x2="181" y2="136" stroke="#222" stroke-width="0.7" stroke-dasharray="1.2 2.6"/>
<line x1="192.5" y1="98" x2="192.5" y2="137.0" stroke="#ccc" stroke-width="0.6" />
<line x1="192.5" y1="136.5" x2="231" y2="136.5" stroke="#999" stroke-width="0.4" />
<line x1="190.3" y1="99.0" x2="191.9" y2="99.0" stroke="#444" stroke-width="0.6" />
<line x1="190.3" y1="106.4" x2="191.9" y2="106.4" stroke="#444" stroke-width="0.6" />
<line x1="190.3" y1="113.8" x2="191.9" y2="113.8" stroke="#444" stroke-width="0.6" />
<line x1="190.3" y1="121.2" x2="191.9" y2="121.2" stroke="#444" stroke-width="0.6" />
<line x1="190.3" y1="128.6" x2="191.9" y2="128.6" stroke="#444" stroke-width="0.6" />
<line x1="190.3" y1="136.0" x2="191.9" y2="136.0" stroke="#444" stroke-width="0.6" />
<line x1="198" y1="136.6" x2="197.2" y2="138.4" stroke="#777" stroke-width="0.5" />
<line x1="210" y1="136.6" x2="209.2" y2="138.4" stroke="#777" stroke-width="0.5" />
<line x1="220" y1="136.6" x2="219.2" y2="138.4" stroke="#777" stroke-width="0.5" />
<line x1="229" y1="136.6" x2="228.2" y2="138.4" stroke="#777" stroke-width="0.5" />
<path d="M192.50,136.00 L193.00,136.00 L193.50,136.00 L194.00,136.00 L194.50,135.99 L195.00,135.94 L195.50,135.77 L196.00,135.20 L196.50,133.70 L197.00,130.42 L197.50,124.64 L198.00,116.54 L198.50,107.97 L199.00,102.08 L199.50,101.48 L200.00,106.48 L200.50,114.77 L201.00,123.17 L201.50,129.48 L202.00,133.22 L202.50,135.00 L203.00,135.70 L203.50,135.92 L204.00,135.98 L204.50,136.00 L205.00,136.00 L205.50,136.00 L206.00,136.00 L206.50,136.00 L207.00,136.00 L207.50,136.00 L208.00,136.00 L208.50,136.00 L209.00,136.00 L209.50,136.00 L210.00,136.00 L210.50,136.00 L211.00,136.00 L211.50,136.00 L212.00,136.00 L212.50,136.00 L213.00,136.00 L213.50,136.00 L214.00,136.00 L214.50,136.00 L215.00,136.00 L215.50,136.00 L216.00,136.00 L216.50,136.00 L217.00,136.00 L217.50,136.00 L218.00,136.00 L218.50,136.00 L219.00,136.00 L219.50,136.00 L220.00,136.00 L220.50,136.00 L221.00,136.00 L221.50,136.00 L222.00,136.00 L222.50,136.00 L223.00,136.00 L223.50,136.00 L224.00,136.00 L224.50,136.00 L225.00,136.00 L225.50,136.00 L226.00,136.00 L226.50,136.00 L227.00,136.00 L227.50,136.00 L228.00,136.00 L228.50,136.00 L229.00,136.00 L229.50,136.00 L230.00,136.00 L230.50,136.00 L231.00,136.00" fill="none" stroke="#000" stroke-width="1.0" stroke-dasharray="1.2 0.8"/>
<path d="M192.50,136.00 L193.00,136.00 L193.50,136.00 L194.00,136.00 L194.50,136.00 L195.00,136.00 L195.50,136.00 L196.00,136.00 L196.50,136.00 L197.00,136.00 L197.50,136.00 L198.00,136.00 L198.50,136.00 L199.00,136.00 L199.50,136.00 L200.00,136.00 L200.50,136.00 L201.00,136.00 L201.50,136.00 L202.00,136.00 L202.50,136.00 L203.00,136.00 L203.50,136.00 L204.00,136.00 L204.50,136.00 L205.00,136.00 L205.50,136.00 L206.00,136.00 L206.50,136.00 L207.00,136.00 L207.50,136.00 L208.00,136.00 L208.50,136.00 L209.00,136.00 L209.50,136.00 L210.00,136.00 L210.50,136.00 L211.00,136.00 L211.50,136.00 L212.00,136.00 L212.50,136.00 L213.00,136.00 L213.50,136.00 L214.00,135.97 L214.50,135.85 L215.00,135.30 L215.50,133.49 L216.00,129.01 L216.50,120.84 L217.00,110.37 L217.50,102.25 L218.00,101.40 L218.50,108.37 L219.00,118.82 L219.50,127.68 L220.00,132.86 L220.50,135.08 L221.00,135.79 L221.50,135.96 L222.00,135.99 L222.50,136.00 L223.00,136.00 L223.50,136.00 L224.00,136.00 L224.50,136.00 L225.00,136.00 L225.50,136.00 L226.00,136.00 L226.50,136.00 L227.00,136.00 L227.50,136.00 L228.00,136.00 L228.50,136.00 L229.00,136.00 L229.50,136.00 L230.00,136.00 L230.50,136.00 L231.00,136.00" fill="none" stroke="#ff0808" stroke-width="1.0" />
<line x1="192.5" y1="136" x2="231" y2="136" stroke="#222" stroke-width="0.7" stroke-dasharray="1.2 2.6"/>
<line x1="242.3" y1="98" x2="242.3" y2="137.0" stroke="#ccc" stroke-width="0.6" />
<line x1="242.3" y1="136.5" x2="281.3" y2="136.5" stroke="#999" stroke-width="0.4" />
<line x1="240.10000000000002" y1="99.0" x2="241.70000000000002" y2="99.0" stroke="#444" stroke-width="0.6" />
<line x1="240.10000000000002" y1="106.4" x2="241.70000000000002" y2="106.4" stroke="#444" stroke-width="0.6" />
<line x1="240.10000000000002" y1="113.8" x2="241.70000000000002" y2="113.8" stroke="#444" stroke-width="0.6" />
<line x1="240.10000000000002" y1="121.2" x2="241.70000000000002" y2="121.2" stroke="#444" stroke-width="0.6" />
<line x1="240.10000000000002" y1="128.6" x2="241.70000000000002" y2="128.6" stroke="#444" stroke-width="0.6" />
<line x1="240.10000000000002" y1="136.0" x2="241.70000000000002" y2="136.0" stroke="#444" stroke-width="0.6" />
<line x1="248" y1="136.6" x2="247.2" y2="138.4" stroke="#777" stroke-width="0.5" />
<line x1="260" y1="136.6" x2="259.2" y2="138.4" stroke="#777" stroke-width="0.5" />
<line x1="270" y1="136.6" x2="269.2" y2="138.4" stroke="#777" stroke-width="0.5" />
<line x1="279" y1="136.6" x2="278.2" y2="138.4" stroke="#777" stroke-width="0.5" />
<line x1="280.6" y1="98" x2="280.6" y2="136.6" stroke="#777" stroke-width="0.6" />
<path d="M242.00,136.00 L242.50,136.00 L243.00,136.00 L243.50,136.00 L244.00,136.00 L244.50,136.00 L245.00,136.00 L245.50,135.98 L246.00,135.86 L246.50,135.26 L247.00,133.04 L247.50,127.27 L248.00,117.12 L248.50,106.01 L249.00,101.00 L249.50,105.11 L250.00,114.77 L250.50,124.64 L251.00,131.26 L251.50,134.46 L252.00,135.61 L252.50,135.92 L253.00,135.99 L253.50,136.00 L254.00,136.00 L254.50,136.00 L255.00,136.00 L255.50,136.00 L256.00,136.00 L256.50,136.00 L257.00,136.00 L257.50,136.00 L258.00,136.00 L258.50,136.00 L259.00,136.00 L259.50,136.00 L260.00,136.00 L260.50,136.00 L261.00,136.00 L261.50,136.00 L262.00,136.00 L262.50,136.00 L263.00,136.00 L263.50,136.00 L264.00,136.00 L264.50,136.00 L265.00,136.00 L265.50,136.00 L266.00,136.00 L266.50,136.00 L267.00,136.00 L267.50,136.00 L268.00,136.00 L268.50,136.00 L269.00,136.00 L269.50,136.00 L270.00,136.00 L270.50,136.00 L271.00,136.00 L271.50,136.00 L272.00,136.00 L272.50,136.00 L273.00,136.00 L273.50,136.00 L274.00,136.00 L274.50,136.00 L275.00,136.00 L275.50,136.00 L276.00,136.00 L276.50,136.00 L277.00,136.00 L277.50,136.00 L278.00,136.00 L278.50,136.00 L279.00,136.00 L279.50,136.00 L280.00,136.00 L280.50,136.00 L281.00,136.00 L281.50,136.00 L282.00,136.00 L282.50,136.00" fill="none" stroke="#000" stroke-width="1.0" stroke-dasharray="1.2 0.8"/>
<path d="M242.00,136.00 L242.50,136.00 L243.00,136.00 L243.50,136.00 L244.00,136.00 L244.50,136.00 L245.00,136.00 L245.50,135.98 L246.00,135.87 L246.50,135.30 L247.00,133.21 L247.50,127.77 L248.00,118.18 L248.50,107.63 L249.00,102.73 L249.50,106.23 L250.00,114.77 L250.50,123.52 L251.00,129.53 L251.50,132.61 L252.00,133.87 L252.50,134.42 L253.00,134.78 L253.50,135.08 L254.00,135.35 L254.50,135.57 L255.00,135.73 L255.50,135.84 L256.00,135.91 L256.50,135.95 L257.00,135.98 L257.50,135.99 L258.00,136.00 L258.50,136.00 L259.00,136.00 L259.50,136.00 L260.00,136.00 L260.50,136.00 L261.00,136.00 L261.50,136.00 L262.00,136.00 L262.50,136.00 L263.00,136.00 L263.50,136.00 L264.00,136.00 L264.50,136.00 L265.00,136.00 L265.50,136.00 L266.00,136.00 L266.50,136.00 L267.00,136.00 L267.50,136.00 L268.00,136.00 L268.50,136.00 L269.00,136.00 L269.50,136.00 L270.00,136.00 L270.50,136.00 L271.00,136.00 L271.50,136.00 L272.00,136.00 L272.50,136.00 L273.00,136.00 L273.50,136.00 L274.00,136.00 L274.50,136.00 L275.00,136.00 L275.50,136.00 L276.00,136.00 L276.50,136.00 L277.00,136.00 L277.50,136.00 L278.00,136.00 L278.50,136.00 L279.00,136.00 L279.50,136.00 L280.00,136.00 L280.50,136.00 L281.00,136.00 L281.50,136.00 L282.00,136.00 L282.50,136.00" fill="none" stroke="#ff0808" stroke-width="1.0" />
<line x1="242" y1="136" x2="282.5" y2="136" stroke="#222" stroke-width="0.7" stroke-dasharray="1.2 2.6"/>
<line x1="93" y1="141.5" x2="281" y2="141.5" stroke="#4a4a4a" stroke-width="1.5" />
<text x="161.8" y="152.6" font-size="9.8" font-weight="normal" text-anchor="start" fill="#222" textLength="49.6" lengthAdjust="spacingAndGlyphs"  stroke="#222" stroke-width="0.25">EpoR-tdTomato</text>
<line x1="117.5" y1="160" x2="130" y2="160" stroke="#000" stroke-width="1.3" stroke-dasharray="1.2 0.8"/>
<text x="133" y="162.8" font-size="7" font-weight="bold" text-anchor="start" fill="#000" >WT</text>
<line x1="156" y1="160" x2="168" y2="160" stroke="#ff0808" stroke-width="1.2" />
<text x="172.5" y="162.8" font-size="7" font-weight="bold" text-anchor="start" fill="#000" textLength="68.5" lengthAdjust="spacingAndGlyphs" >EpoR-tdTomato-Cre</text>
<text x="242.3" y="160.4" font-size="7.6" font-weight="bold" text-anchor="start" fill="#000" textLength="10.4" lengthAdjust="spacingAndGlyphs" >+/+</text>
<text x="285.2" y="92.6" font-size="8" font-weight="bold" text-anchor="start" fill="#000" >c</text>
<text x="298.8" y="150.5" font-size="9" font-weight="normal" text-anchor="start" fill="#222" textLength="62" lengthAdjust="spacingAndGlyphs" transform="rotate(-90 298.8 150.5)"  stroke="#222" stroke-width="0.15">Mean fluorescence</text>
<line x1="324.5" y1="97.5" x2="324.5" y2="142" stroke="#111" stroke-width="1" />
<line x1="324.0" y1="142.0" x2="370" y2="142.0" stroke="#111" stroke-width="1" />
<line x1="321.0" y1="98.0" x2="324.5" y2="98.0" stroke="#111" stroke-width="0.9" />
<text x="319.5" y="100.8" font-size="8" font-weight="normal" text-anchor="end" fill="#222" >8000</text>
<line x1="321.0" y1="109.0" x2="324.5" y2="109.0" stroke="#111" stroke-width="0.9" />
<text x="319.5" y="111.8" font-size="8" font-weight="normal" text-anchor="end" fill="#222" >6000</text>
<line x1="321.0" y1="120.0" x2="324.5" y2="120.0" stroke="#111" stroke-width="0.9" />
<text x="319.5" y="122.8" font-size="8" font-weight="normal" text-anchor="end" fill="#222" >4000</text>
<line x1="321.0" y1="131.0" x2="324.5" y2="131.0" stroke="#111" stroke-width="0.9" />
<text x="319.5" y="133.8" font-size="8" font-weight="normal" text-anchor="end" fill="#222" >2000</text>
<line x1="321.0" y1="142.0" x2="324.5" y2="142.0" stroke="#111" stroke-width="0.9" />
<text x="319.5" y="144.8" font-size="8" font-weight="normal" text-anchor="end" fill="#222" >0</text>
<rect x="328" y="130.8" width="7.300000000000011" height="11.0" fill="#0e34b2" stroke="none" stroke-width="1" />
<line x1="331.65" y1="130.8" x2="331.65" y2="127.8" stroke="#111" stroke-width="0.9" />
<line x1="329.45" y1="127.8" x2="333.84999999999997" y2="127.8" stroke="#111" stroke-width="1.0" />
<rect x="338.6" y="110" width="7.399999999999977" height="31.80000000000001" fill="#c80814" stroke="none" stroke-width="1" />
<line x1="342.3" y1="110" x2="342.3" y2="108.5" stroke="#111" stroke-width="0.9" />
<line x1="340.1" y1="108.5" x2="344.5" y2="108.5" stroke="#111" stroke-width="1.0" />
<rect x="349.2" y="100.5" width="7.199999999999989" height="41.30000000000001" fill="#38f408" stroke="none" stroke-width="1" />
<line x1="352.79999999999995" y1="100.5" x2="352.79999999999995" y2="99.6" stroke="#111" stroke-width="0.9" />
<line x1="350.59999999999997" y1="99.6" x2="354.99999999999994" y2="99.6" stroke="#111" stroke-width="1.0" />
<line x1="360.5" y1="141" x2="364.5" y2="141" stroke="#111" stroke-width="1" />
<line x1="331.6" y1="142" x2="331.6" y2="145" stroke="#111" stroke-width="0.9" />
<text x="331.6" y="154" font-size="7.4" font-weight="normal" text-anchor="middle" fill="#333" >I</text>
<line x1="342.3" y1="142" x2="342.3" y2="145" stroke="#111" stroke-width="0.9" />
<text x="342.3" y="154" font-size="7.4" font-weight="normal" text-anchor="middle" fill="#333" >II</text>
<line x1="352.8" y1="142" x2="352.8" y2="145" stroke="#111" stroke-width="0.9" />
<text x="352.8" y="154" font-size="7.4" font-weight="normal" text-anchor="middle" fill="#333" >III</text>
<line x1="363.6" y1="142" x2="363.6" y2="145" stroke="#111" stroke-width="0.9" />
<text x="363.6" y="154" font-size="7.4" font-weight="normal" text-anchor="middle" fill="#333" >IV</text>
<text x="8" y="177.4" font-size="11.3" font-weight="bold" text-anchor="start" fill="#000" textLength="7.4" lengthAdjust="spacingAndGlyphs" >C</text>
<text x="24.9" y="178.8" font-size="8" font-weight="bold" text-anchor="start" fill="#000" >a</text>
<line x1="52" y1="174" x2="52" y2="264.5" stroke="#222" stroke-width="1.0" />
<line x1="53" y1="177" x2="55" y2="176" stroke="#666" stroke-width="0.5" />
<line x1="53" y1="186" x2="55" y2="185" stroke="#666" stroke-width="0.5" />
<line x1="53" y1="195" x2="55" y2="194" stroke="#666" stroke-width="0.5" />
<line x1="53" y1="204" x2="55" y2="203" stroke="#666" stroke-width="0.5" />
<line x1="53" y1="213" x2="55" y2="212" stroke="#666" stroke-width="0.5" />
<line x1="53" y1="225.5" x2="55" y2="224.5" stroke="#666" stroke-width="0.5" />
<line x1="53" y1="234.5" x2="55" y2="233.5" stroke="#666" stroke-width="0.5" />
<line x1="53" y1="243.5" x2="55" y2="242.5" stroke="#666" stroke-width="0.5" />
<line x1="53" y1="252.5" x2="55" y2="251.5" stroke="#666" stroke-width="0.5" />
<line x1="53" y1="261.5" x2="55" y2="260.5" stroke="#666" stroke-width="0.5" />
<line x1="56" y1="174.6" x2="96" y2="174.6" stroke="#999" stroke-width="0.6" />
<line x1="56" y1="175" x2="56" y2="213.4" stroke="#ccc" stroke-width="0.5" stroke-dasharray="1 1"/>
<line x1="56" y1="213.4" x2="96" y2="213.4" stroke="#bbb" stroke-width="0.5" stroke-dasharray="1 1.5"/>
<line x1="62.5" y1="216.8" x2="96" y2="216.8" stroke="#333" stroke-width="1.0" stroke-dasharray="2.6 4.7"/>
<g transform="translate(0,0)">
<g filter="url(#b1)">
<ellipse cx="68" cy="196" rx="10" ry="5" fill="#c4d0ff" stroke="none" stroke-width="1" opacity="0.4" transform="rotate(-35 68 196)"/>
<ellipse cx="83" cy="187.8" rx="7" ry="1.5" fill="#9cb0ff" stroke="none" stroke-width="1" opacity="0.7" transform="rotate(-8 83 187.8)"/>
<ellipse cx="61.3" cy="203" rx="2.4" ry="5.5" fill="#2e5cf8" stroke="none" stroke-width="1" opacity="0.95"/>
<ellipse cx="62.6" cy="208.3" rx="3.8" ry="2.3" fill="#2e5cf8" stroke="none" stroke-width="1" opacity="0.95"/>
<ellipse cx="73.6" cy="195.6" rx="8.4" ry="3.7" fill="#2e5cf8" stroke="none" stroke-width="1" opacity="0.95" transform="rotate(-37 73.6 195.6)"/>
</g><g filter="url(#b05)">
<ellipse cx="61.1" cy="203" rx="1.7" ry="4.8" fill="#30d878" stroke="none" stroke-width="1" />
<ellipse cx="60.9" cy="200.4" rx="0.8" ry="1.2" fill="#e8c830" stroke="none" stroke-width="1" />
<ellipse cx="62.2" cy="208.2" rx="3.0" ry="1.8" fill="#50e050" stroke="none" stroke-width="1" />
<ellipse cx="61.5" cy="208.2" rx="1.7" ry="1.0" fill="#ffe020" stroke="none" stroke-width="1" />
<ellipse cx="61.2" cy="208.1" rx="0.95" ry="0.65" fill="#ff3010" stroke="none" stroke-width="1" />
<ellipse cx="60.9" cy="204.5" rx="0.6" ry="2" fill="#c8e830" stroke="none" stroke-width="1" />
<ellipse cx="73.2" cy="195.9" rx="7.2" ry="3.0" fill="#30d868" stroke="none" stroke-width="1" transform="rotate(-37 73.2 195.9)"/>
<ellipse cx="71.0" cy="197.2" rx="3.8" ry="2.0" fill="#b8e830" stroke="none" stroke-width="1" transform="rotate(-37 71.0 197.2)"/>
<ellipse cx="69.3" cy="197.9" rx="1.3" ry="1.0" fill="#ff7010" stroke="none" stroke-width="1" transform="rotate(-37 69.3 197.9)"/>
<ellipse cx="78.2" cy="192.3" rx="2.2" ry="1.5" fill="#30b0d0" stroke="none" stroke-width="1" transform="rotate(-37 78.2 192.3)"/>
</g>
<rect x="73.4" y="183.6" width="20.3" height="7.0" fill="none" stroke="#111" stroke-width="0.8" />
<path d="M58.6,196.8 L64.4,196.8 L64.4,206 L67.5,206 L67.5,211.3 L58.6,211.3 Z" fill="none" stroke="#111" stroke-width="0.8" />
<path d="M66.5,198.8 L73.7,191 L81,190.6 Q81.2,193 79,194.6 L75.2,197.4 L68.9,202.6 Z" fill="none" stroke="#111" stroke-width="0.8" />
<line x1="70.6" y1="194.0" x2="73.3" y2="199.9" stroke="#112" stroke-width="0.8" />
<line x1="74.4" y1="191.2" x2="76.7" y2="197.0" stroke="#112" stroke-width="0.8" />
</g>
<line x1="56" y1="222.5" x2="96" y2="222.5" stroke="#999" stroke-width="0.6" />
<line x1="56" y1="223" x2="56" y2="260.8" stroke="#ccc" stroke-width="0.5" stroke-dasharray="1 1"/>
<line x1="56" y1="260.8" x2="96" y2="260.8" stroke="#bbb" stroke-width="0.5" stroke-dasharray="1 1.5"/>
<line x1="62.5" y1="264.2" x2="96" y2="264.2" stroke="#333" stroke-width="1.0" stroke-dasharray="2.6 4.7"/>
<g transform="translate(0,47.7)">
<g filter="url(#b1)">
<ellipse cx="68" cy="196" rx="10" ry="5" fill="#c4d0ff" stroke="none" stroke-width="1" opacity="0.4" transform="rotate(-35 68 196)"/>
<ellipse cx="83" cy="187.8" rx="7" ry="1.5" fill="#9cb0ff" stroke="none" stroke-width="1" opacity="0.7" transform="rotate(-8 83 187.8)"/>
<ellipse cx="61.3" cy="203" rx="2.4" ry="5.5" fill="#2e5cf8" stroke="none" stroke-width="1" opacity="0.95"/>
<ellipse cx="62.6" cy="208.3" rx="3.8" ry="2.3" fill="#2e5cf8" stroke="none" stroke-width="1" opacity="0.95"/>
<ellipse cx="73.6" cy="195.6" rx="8.4" ry="3.7" fill="#2e5cf8" stroke="none" stroke-width="1" opacity="0.95" transform="rotate(-37 73.6 195.6)"/>
</g><g filter="url(#b05)">
<ellipse cx="61.1" cy="203" rx="1.7" ry="4.8" fill="#30d878" stroke="none" stroke-width="1" />
<ellipse cx="60.9" cy="200.4" rx="0.8" ry="1.2" fill="#e8c830" stroke="none" stroke-width="1" />
<ellipse cx="62.2" cy="208.2" rx="3.0" ry="1.8" fill="#50e050" stroke="none" stroke-width="1" />
<ellipse cx="61.5" cy="208.2" rx="1.7" ry="1.0" fill="#ffe020" stroke="none" stroke-width="1" />
<ellipse cx="61.2" cy="208.1" rx="0.95" ry="0.65" fill="#ff3010" stroke="none" stroke-width="1" />
<ellipse cx="60.9" cy="204.5" rx="0.6" ry="2" fill="#c8e830" stroke="none" stroke-width="1" />
<ellipse cx="73.2" cy="195.9" rx="7.2" ry="3.0" fill="#30d868" stroke="none" stroke-width="1" transform="rotate(-37 73.2 195.9)"/>
<ellipse cx="71.0" cy="197.2" rx="3.8" ry="2.0" fill="#b8e830" stroke="none" stroke-width="1" transform="rotate(-37 71.0 197.2)"/>
<ellipse cx="69.3" cy="197.9" rx="1.3" ry="1.0" fill="#ff7010" stroke="none" stroke-width="1" transform="rotate(-37 69.3 197.9)"/>
<ellipse cx="78.2" cy="192.3" rx="2.2" ry="1.5" fill="#30b0d0" stroke="none" stroke-width="1" transform="rotate(-37 78.2 192.3)"/>
</g>
<rect x="73.4" y="183.6" width="20.3" height="7.0" fill="none" stroke="#111" stroke-width="0.8" />
<path d="M58.6,196.8 L64.4,196.8 L64.4,206 L67.5,206 L67.5,211.3 L58.6,211.3 Z" fill="none" stroke="#111" stroke-width="0.8" />
<path d="M66.5,198.8 L73.7,191 L81,190.6 Q81.2,193 79,194.6 L75.2,197.4 L68.9,202.6 Z" fill="none" stroke="#111" stroke-width="0.8" />
<line x1="70.6" y1="194.0" x2="73.3" y2="199.9" stroke="#112" stroke-width="0.8" />
<line x1="74.4" y1="191.2" x2="76.7" y2="197.0" stroke="#112" stroke-width="0.8" />
</g>
<text x="47.8" y="198.5" font-size="8" font-weight="normal" text-anchor="end" fill="#111"  stroke="#111" stroke-width="0.12">WT</text>
<text x="48.4" y="237.5" font-size="7.6" font-weight="normal" text-anchor="end" fill="#111"  stroke="#111" stroke-width="0.12">EpoR-</text>
<text x="48.4" y="246.3" font-size="7.6" font-weight="normal" text-anchor="end" fill="#111" textLength="37.5" lengthAdjust="spacingAndGlyphs"  stroke="#111" stroke-width="0.12">tdTomato-</text>
<text x="36.8" y="255.8" font-size="7.6" font-weight="normal" text-anchor="end" fill="#111"  stroke="#111" stroke-width="0.12">Cre</text>
<text x="37.2" y="253.4" font-size="6.6" font-weight="normal" text-anchor="start" fill="#111" textLength="11" lengthAdjust="spacingAndGlyphs"  stroke="#111" stroke-width="0.12">+/+</text>
<text x="47.6" y="229" font-size="10" font-weight="normal" text-anchor="start" fill="#222" textLength="19" lengthAdjust="spacingAndGlyphs" transform="rotate(-90 47.6 229)"  stroke="#222" stroke-width="0.22">CD44</text>
<text x="68" y="275.2" font-size="9.6" font-weight="normal" text-anchor="start" fill="#222" textLength="17.8" lengthAdjust="spacingAndGlyphs"  stroke="#222" stroke-width="0.25">FSC-A</text>
<line x1="95" y1="196.8" x2="108.5" y2="196.8" stroke="#000" stroke-width="0.9" />
<path d="M110.5,196.8 L106.9,195.0 L106.9,198.60000000000002 Z" fill="#000" stroke="none" stroke-width="1" />
<line x1="95" y1="245.3" x2="108.5" y2="245.3" stroke="#000" stroke-width="0.9" />
<path d="M110.5,245.3 L106.9,243.5 L106.9,247.10000000000002 Z" fill="#000" stroke="none" stroke-width="1" />
<text x="110.4" y="229.2" font-size="9" font-weight="normal" text-anchor="start" fill="#222" textLength="20.6" lengthAdjust="spacingAndGlyphs" transform="rotate(-90 110.4 229.2)"  stroke="#222" stroke-width="0.25">Count</text>
<line x1="114" y1="174" x2="114" y2="264.2" stroke="#111" stroke-width="0.8" />
<line x1="114" y1="174.5" x2="158" y2="174.5" stroke="#aaa" stroke-width="0.5" />
<line x1="115" y1="176" x2="116.6" y2="176" stroke="#555" stroke-width="0.5" />
<line x1="115" y1="224.5" x2="116.6" y2="224.5" stroke="#555" stroke-width="0.5" />
<line x1="115" y1="183" x2="116.6" y2="183" stroke="#555" stroke-width="0.5" />
<line x1="115" y1="231.5" x2="116.6" y2="231.5" stroke="#555" stroke-width="0.5" />
<line x1="115" y1="190" x2="116.6" y2="190" stroke="#555" stroke-width="0.5" />
<line x1="115" y1="238.5" x2="116.6" y2="238.5" stroke="#555" stroke-width="0.5" />
<line x1="115" y1="197" x2="116.6" y2="197" stroke="#555" stroke-width="0.5" />
<line x1="115" y1="245.5" x2="116.6" y2="245.5" stroke="#555" stroke-width="0.5" />
<line x1="115" y1="204" x2="116.6" y2="204" stroke="#555" stroke-width="0.5" />
<line x1="115" y1="252.5" x2="116.6" y2="252.5" stroke="#555" stroke-width="0.5" />
<line x1="115" y1="211" x2="116.6" y2="211" stroke="#555" stroke-width="0.5" />
<line x1="115" y1="259.5" x2="116.6" y2="259.5" stroke="#555" stroke-width="0.5" />
<line x1="118.6" y1="175" x2="118.6" y2="212" stroke="#ccc" stroke-width="0.5" />
<line x1="114" y1="212.3" x2="158" y2="212.3" stroke="#f04040" stroke-width="0.7" />
<line x1="124" y1="214" x2="123.2" y2="216" stroke="#666" stroke-width="0.5" />
<line x1="124" y1="262" x2="123.2" y2="264" stroke="#666" stroke-width="0.5" />
<line x1="137" y1="214" x2="136.2" y2="216" stroke="#666" stroke-width="0.5" />
<line x1="137" y1="262" x2="136.2" y2="264" stroke="#666" stroke-width="0.5" />
<line x1="146" y1="214" x2="145.2" y2="216" stroke="#666" stroke-width="0.5" />
<line x1="146" y1="262" x2="145.2" y2="264" stroke="#666" stroke-width="0.5" />
<line x1="155" y1="214" x2="154.2" y2="216" stroke="#666" stroke-width="0.5" />
<line x1="155" y1="262" x2="154.2" y2="264" stroke="#666" stroke-width="0.5" />
<path d="M120.12,212.29 L120.37,212.29 L120.62,212.27 L120.87,212.24 L121.12,212.16 L121.37,212.02 L121.62,211.77 L121.87,211.33 L122.12,210.61 L122.37,209.47 L122.62,207.81 L122.87,205.48 L123.12,202.43 L123.37,198.68 L123.62,194.37 L123.87,189.78 L124.12,185.33 L124.37,181.48 L124.62,178.71 L124.87,177.38 L125.12,177.68 L125.37,179.56 L125.62,182.76 L125.87,186.88 L126.12,191.44 L126.37,195.97 L126.62,200.11 L126.87,203.61 L127.12,206.40 L127.37,208.48 L127.62,209.94 L127.87,210.91 L128.12,211.52 L128.37,211.88 L128.62,212.08 L128.87,212.20 L129.12,212.25 L129.37,212.28 L129.62,212.29" fill="none" stroke="#b040f0" stroke-width="0.8" />
<path d="M119.98,212.29 L120.23,212.29 L120.48,212.27 L120.73,212.22 L120.98,212.14 L121.23,211.96 L121.48,211.64 L121.73,211.08 L121.98,210.15 L122.23,208.71 L122.48,206.59 L122.73,203.67 L122.98,199.93 L123.23,195.45 L123.48,190.50 L123.73,185.53 L123.98,181.08 L124.23,177.71 L124.48,175.92 L124.73,175.95 L124.98,177.82 L125.23,181.24 L125.48,185.72 L125.73,190.71 L125.98,195.64 L126.23,200.09 L126.48,203.80 L126.73,206.69 L126.98,208.78 L127.23,210.20 L127.48,211.11 L127.73,211.66 L127.98,211.97 L128.23,212.14 L128.48,212.23 L128.73,212.27 L128.98,212.29" fill="none" stroke="#222" stroke-width="0.8" />
<path d="M120.28,212.29 L120.53,212.29 L120.78,212.27 L121.03,212.23 L121.28,212.15 L121.53,211.98 L121.78,211.68 L122.03,211.15 L122.28,210.28 L122.53,208.91 L122.78,206.91 L123.03,204.17 L123.28,200.64 L123.53,196.41 L123.78,191.76 L124.03,187.07 L124.28,182.87 L124.53,179.70 L124.78,178.00 L125.03,178.04 L125.28,179.80 L125.53,183.02 L125.78,187.25 L126.03,191.95 L126.28,196.59 L126.53,200.79 L126.78,204.29 L127.03,207.01 L127.28,208.98 L127.53,210.32 L127.78,211.18 L128.03,211.70 L128.28,211.99 L128.53,212.15 L128.78,212.23 L129.03,212.27 L129.28,212.29" fill="none" stroke="#2040e8" stroke-width="0.8" />
<path d="M119.98,212.29 L120.23,212.29 L120.48,212.27 L120.73,212.23 L120.98,212.14 L121.23,211.97 L121.48,211.66 L121.73,211.12 L121.98,210.22 L122.23,208.81 L122.48,206.76 L122.73,203.93 L122.98,200.30 L123.23,195.95 L123.48,191.16 L123.73,186.33 L123.98,182.01 L124.23,178.75 L124.48,177.01 L124.73,177.05 L124.98,178.86 L125.23,182.17 L125.48,186.52 L125.73,191.36 L125.98,196.14 L126.23,200.46 L126.48,204.06 L126.73,206.85 L126.98,208.88 L127.23,210.26 L127.48,211.15 L127.73,211.68 L127.98,211.98 L128.23,212.15 L128.48,212.23 L128.73,212.27 L128.98,212.29" fill="none" stroke="#ff1010" stroke-width="1.25" />
<line x1="129.3" y1="177.8" x2="136.60000000000002" y2="177.8" stroke="#ff1010" stroke-width="1.4" />
<text x="138.9" y="180.15" font-size="6.6" font-weight="normal" text-anchor="start" fill="#111" >Pro</text>
<line x1="129.3" y1="183.9" x2="136.60000000000002" y2="183.9" stroke="#2040e8" stroke-width="1.4" />
<text x="138.9" y="186.25" font-size="6.6" font-weight="normal" text-anchor="start" fill="#111" >Baso</text>
<line x1="129.3" y1="190.0" x2="136.60000000000002" y2="190.0" stroke="#40e020" stroke-width="1.4" />
<text x="138.9" y="192.35" font-size="6.6" font-weight="normal" text-anchor="start" fill="#111" >Poly</text>
<line x1="129.3" y1="196.10000000000002" x2="136.60000000000002" y2="196.10000000000002" stroke="#ff8010" stroke-width="1.4" />
<text x="138.9" y="198.45000000000002" font-size="6.6" font-weight="normal" text-anchor="start" fill="#111" >Ortho</text>
<line x1="129.3" y1="202.20000000000002" x2="136.60000000000002" y2="202.20000000000002" stroke="#222" stroke-width="1.4" />
<text x="138.9" y="204.55" font-size="6.6" font-weight="normal" text-anchor="start" fill="#111" >Retic</text>
<line x1="129.3" y1="208.3" x2="136.60000000000002" y2="208.3" stroke="#b040f0" stroke-width="1.4" />
<text x="138.9" y="210.65" font-size="6.6" font-weight="normal" text-anchor="start" fill="#111" >RBC</text>
<line x1="114" y1="260.7" x2="158" y2="260.7" stroke="#f46060" stroke-width="0.6" />
<path d="M128.01,260.49 L128.26,260.48 L128.51,260.46 L128.76,260.39 L129.01,260.24 L129.26,259.93 L129.51,259.33 L129.76,258.25 L130.01,256.45 L130.26,253.72 L130.51,249.89 L130.76,245.01 L131.01,239.41 L131.26,233.70 L131.51,228.72 L131.76,225.34 L132.01,224.20 L132.26,225.53 L132.51,229.07 L132.76,234.14 L133.01,239.87 L133.26,245.44 L133.51,250.24 L133.76,253.97 L134.01,256.63 L134.26,258.36 L134.51,259.39 L134.76,259.97 L135.01,260.26 L135.26,260.40 L135.51,260.46 L135.76,260.49" fill="none" stroke="#b040f0" stroke-width="0.9" />
<path d="M130.52,260.49 L130.77,260.48 L131.02,260.45 L131.27,260.38 L131.52,260.20 L131.77,259.82 L132.02,259.07 L132.27,257.71 L132.52,255.48 L132.77,252.13 L133.02,247.59 L133.27,242.06 L133.52,236.11 L133.77,230.65 L134.02,226.68 L134.27,225.02 L134.52,226.04 L134.77,229.53 L135.02,234.72 L135.27,240.64 L135.52,246.34 L135.77,251.15 L136.02,254.78 L136.27,257.27 L136.52,258.81 L136.77,259.68 L137.02,260.13 L137.27,260.35 L137.52,260.44 L137.77,260.48 L138.02,260.49" fill="none" stroke="#222" stroke-width="0.9" />
<path d="M133.22,260.49 L133.47,260.48 L133.72,260.45 L133.97,260.38 L134.22,260.19 L134.47,259.81 L134.72,259.05 L134.97,257.67 L135.22,255.41 L135.47,252.01 L135.72,247.41 L135.97,241.80 L136.22,235.77 L136.47,230.23 L136.72,226.20 L136.97,224.52 L137.22,225.56 L137.47,229.09 L137.72,234.36 L137.97,240.36 L138.22,246.14 L138.47,251.02 L138.72,254.70 L138.97,257.22 L139.22,258.78 L139.47,259.67 L139.72,260.13 L139.97,260.34 L140.22,260.44 L140.47,260.48 L140.72,260.49" fill="none" stroke="#ff8010" stroke-width="0.9" />
<path d="M136.22,260.49 L136.47,260.48 L136.72,260.45 L136.97,260.38 L137.22,260.20 L137.47,259.83 L137.72,259.09 L137.97,257.75 L138.22,255.55 L138.47,252.25 L138.72,247.77 L138.97,242.32 L139.22,236.46 L139.47,231.07 L139.72,227.15 L139.97,225.52 L140.22,226.53 L140.47,229.96 L140.72,235.08 L140.97,240.92 L141.22,246.53 L141.47,251.28 L141.72,254.86 L141.97,257.31 L142.22,258.83 L142.47,259.69 L142.72,260.14 L142.97,260.35 L143.22,260.44 L143.47,260.48 L143.72,260.49" fill="none" stroke="#40e020" stroke-width="0.9" />
<path d="M137.32,260.50 L137.57,260.48 L137.82,260.46 L138.07,260.38 L138.32,260.22 L138.57,259.86 L138.82,259.15 L139.07,257.87 L139.32,255.76 L139.57,252.60 L139.82,248.32 L140.07,243.10 L140.32,237.49 L140.57,232.33 L140.82,228.58 L141.07,227.02 L141.32,227.99 L141.57,231.27 L141.82,236.17 L142.07,241.76 L142.32,247.13 L142.57,251.67 L142.82,255.11 L143.07,257.45 L143.32,258.90 L143.57,259.72 L143.82,260.15 L144.07,260.36 L144.32,260.44 L144.57,260.48 L144.82,260.49" fill="none" stroke="#2040e8" stroke-width="0.9" />
<path d="M139.31,260.50 L139.56,260.49 L139.81,260.46 L140.06,260.40 L140.31,260.27 L140.56,259.99 L140.81,259.45 L141.06,258.47 L141.31,256.85 L141.56,254.39 L141.81,250.94 L142.06,246.55 L142.31,241.50 L142.56,236.36 L142.81,231.87 L143.06,228.83 L143.31,227.80 L143.56,229.00 L143.81,232.19 L144.06,236.75 L144.31,241.92 L144.56,246.93 L144.81,251.25 L145.06,254.62 L145.31,257.01 L145.56,258.57 L145.81,259.50 L146.06,260.02 L146.31,260.28 L146.56,260.41 L146.81,260.46 L147.06,260.49" fill="none" stroke="#ff1010" stroke-width="0.9" />
<text x="112.2" y="275.4" font-size="9.8" font-weight="normal" text-anchor="start" fill="#222" textLength="49.8" lengthAdjust="spacingAndGlyphs"  stroke="#222" stroke-width="0.25">EpoR-tdTomato</text>
<text x="185.2" y="177.4" font-size="11.3" font-weight="bold" text-anchor="start" fill="#000" >D</text>
<text x="201" y="178.8" font-size="8" font-weight="bold" text-anchor="start" fill="#000" >a</text>
<line x1="234.5" y1="174" x2="234.5" y2="264.5" stroke="#222" stroke-width="1.0" />
<line x1="235.5" y1="177" x2="237.5" y2="176" stroke="#666" stroke-width="0.5" />
<line x1="235.5" y1="186" x2="237.5" y2="185" stroke="#666" stroke-width="0.5" />
<line x1="235.5" y1="195" x2="237.5" y2="194" stroke="#666" stroke-width="0.5" />
<line x1="235.5" y1="204" x2="237.5" y2="203" stroke="#666" stroke-width="0.5" />
<line x1="235.5" y1="213" x2="237.5" y2="212" stroke="#666" stroke-width="0.5" />
<line x1="235.5" y1="225.5" x2="237.5" y2="224.5" stroke="#666" stroke-width="0.5" />
<line x1="235.5" y1="234.5" x2="237.5" y2="233.5" stroke="#666" stroke-width="0.5" />
<line x1="235.5" y1="243.5" x2="237.5" y2="242.5" stroke="#666" stroke-width="0.5" />
<line x1="235.5" y1="252.5" x2="237.5" y2="251.5" stroke="#666" stroke-width="0.5" />
<line x1="235.5" y1="261.5" x2="237.5" y2="260.5" stroke="#666" stroke-width="0.5" />
<line x1="238.8" y1="174.6" x2="278" y2="174.6" stroke="#999" stroke-width="0.6" />
<line x1="238.8" y1="174.6" x2="238.8" y2="213.4" stroke="#aaa" stroke-width="0.5" />
<line x1="238.8" y1="213.4" x2="278" y2="213.4" stroke="#999" stroke-width="0.5" />
<line x1="244.5" y1="216.8" x2="278" y2="216.8" stroke="#333" stroke-width="1.0" stroke-dasharray="2.6 4.7"/>
<line x1="238.8" y1="222.4" x2="278" y2="222.4" stroke="#999" stroke-width="0.6" />
<line x1="238.8" y1="222.4" x2="238.8" y2="260.8" stroke="#aaa" stroke-width="0.5" />
<line x1="238.8" y1="260.8" x2="278" y2="260.8" stroke="#999" stroke-width="0.5" />
<line x1="244.5" y1="264.2" x2="278" y2="264.2" stroke="#333" stroke-width="1.0" stroke-dasharray="2.6 4.7"/>
<g transform="translate(0,0)">
<g filter="url(#b1)">
<ellipse cx="254" cy="199.5" rx="12" ry="6" fill="#a8baff" stroke="none" stroke-width="1" opacity="0.45" transform="rotate(-35 254 199.5)"/>
<ellipse cx="264" cy="189.6" rx="8.5" ry="2.2" fill="#5f80ff" stroke="none" stroke-width="1" opacity="0.75" transform="rotate(-20 264 189.6)"/>
<ellipse cx="246" cy="206.5" rx="4.5" ry="2.2" fill="#6f8cff" stroke="none" stroke-width="1" opacity="0.7"/>
<rect x="242" y="197.6" width="6" height="8" fill="#2e5cf8" stroke="none" stroke-width="1" opacity="0.95"/>
<ellipse cx="255.6" cy="196.8" rx="8.0" ry="3.8" fill="#2e5cf8" stroke="none" stroke-width="1" opacity="0.95" transform="rotate(-35 255.6 196.8)"/>
</g><g filter="url(#b05)">
<ellipse cx="244.8" cy="201.2" rx="2.8" ry="3.9" fill="#30c8d0" stroke="none" stroke-width="1" />
<ellipse cx="244.8" cy="201.3" rx="2.1" ry="2.6" fill="#40e050" stroke="none" stroke-width="1" />
<ellipse cx="244.5" cy="201.4" rx="0.8" ry="0.9" fill="#b0e830" stroke="none" stroke-width="1" />
<ellipse cx="255.0" cy="197.0" rx="7.0" ry="3.2" fill="#30d868" stroke="none" stroke-width="1" transform="rotate(-35 255.0 197.0)"/>
<ellipse cx="253.2" cy="198.0" rx="3.8" ry="2.4" fill="#f0e020" stroke="none" stroke-width="1" transform="rotate(-38 253.2 198.0)"/>
<ellipse cx="252.0" cy="198.6" rx="2.2" ry="1.25" fill="#ff3010" stroke="none" stroke-width="1" transform="rotate(-50 252.0 198.6)"/>
</g>
<rect x="256.3" y="184.6" width="19.4" height="7.3" fill="none" stroke="#111" stroke-width="0.8" />
<rect x="241.5" y="195.3" width="6.9" height="10.8" fill="none" stroke="#111" stroke-width="0.8" />
<path d="M248.8,199 L256.6,191.2 L264.2,192.4 Q262.5,196 258.2,199.2 L251.5,203.3 Z" fill="none" stroke="#111" stroke-width="0.8" />
<line x1="253.7" y1="195.0" x2="256.0" y2="200.4" stroke="#112" stroke-width="0.8" />
<line x1="257.2" y1="192.0" x2="259.3" y2="198.2" stroke="#112" stroke-width="0.8" />
</g>
<g transform="translate(0,47.6)">
<g filter="url(#b1)">
<ellipse cx="254" cy="199.5" rx="12" ry="6" fill="#a8baff" stroke="none" stroke-width="1" opacity="0.45" transform="rotate(-35 254 199.5)"/>
<ellipse cx="264" cy="189.6" rx="8.5" ry="2.2" fill="#5f80ff" stroke="none" stroke-width="1" opacity="0.75" transform="rotate(-20 264 189.6)"/>
<ellipse cx="246" cy="206.5" rx="4.5" ry="2.2" fill="#6f8cff" stroke="none" stroke-width="1" opacity="0.7"/>
<rect x="242" y="197.6" width="6" height="8" fill="#2e5cf8" stroke="none" stroke-width="1" opacity="0.95"/>
<ellipse cx="255.6" cy="196.8" rx="8.0" ry="3.8" fill="#2e5cf8" stroke="none" stroke-width="1" opacity="0.95" transform="rotate(-35 255.6 196.8)"/>
</g><g filter="url(#b05)">
<ellipse cx="244.8" cy="201.2" rx="2.8" ry="3.9" fill="#30c8d0" stroke="none" stroke-width="1" />
<ellipse cx="244.8" cy="201.3" rx="2.1" ry="2.6" fill="#40e050" stroke="none" stroke-width="1" />
<ellipse cx="244.5" cy="201.4" rx="0.8" ry="0.9" fill="#b0e830" stroke="none" stroke-width="1" />
<ellipse cx="255.0" cy="197.0" rx="7.0" ry="3.2" fill="#30d868" stroke="none" stroke-width="1" transform="rotate(-35 255.0 197.0)"/>
<ellipse cx="253.2" cy="198.0" rx="3.8" ry="2.4" fill="#f0e020" stroke="none" stroke-width="1" transform="rotate(-38 253.2 198.0)"/>
<ellipse cx="252.0" cy="198.6" rx="2.2" ry="1.25" fill="#ff3010" stroke="none" stroke-width="1" transform="rotate(-50 252.0 198.6)"/>
</g>
<rect x="256.3" y="184.6" width="19.4" height="7.3" fill="none" stroke="#111" stroke-width="0.8" />
<rect x="241.5" y="195.3" width="6.9" height="10.8" fill="none" stroke="#111" stroke-width="0.8" />
<path d="M248.8,199 L256.6,191.2 L264.2,192.4 Q262.5,196 258.2,199.2 L251.5,203.3 Z" fill="none" stroke="#111" stroke-width="0.8" />
<line x1="253.7" y1="195.0" x2="256.0" y2="200.4" stroke="#112" stroke-width="0.8" />
<line x1="257.2" y1="192.0" x2="259.3" y2="198.2" stroke="#112" stroke-width="0.8" />
</g>
<text x="230" y="198.5" font-size="8" font-weight="normal" text-anchor="end" fill="#111"  stroke="#111" stroke-width="0.12">WT</text>
<text x="230.4" y="237.5" font-size="7.6" font-weight="normal" text-anchor="end" fill="#111"  stroke="#111" stroke-width="0.12">EpoR-</text>
<text x="230.4" y="246.3" font-size="7.6" font-weight="normal" text-anchor="end" fill="#111" textLength="37.5" lengthAdjust="spacingAndGlyphs"  stroke="#111" stroke-width="0.12">tdTomato-</text>
<text x="218.8" y="255.8" font-size="7.6" font-weight="normal" text-anchor="end" fill="#111"  stroke="#111" stroke-width="0.12">Cre</text>
<text x="219.2" y="253.4" font-size="6.6" font-weight="normal" text-anchor="start" fill="#111" textLength="11" lengthAdjust="spacingAndGlyphs"  stroke="#111" stroke-width="0.12">+/+</text>
<text x="230.8" y="229" font-size="10" font-weight="normal" text-anchor="start" fill="#222" textLength="19" lengthAdjust="spacingAndGlyphs" transform="rotate(-90 230.8 229)"  stroke="#222" stroke-width="0.22">CD44</text>
<text x="249.6" y="275.2" font-size="9.6" font-weight="normal" text-anchor="start" fill="#222" textLength="17.8" lengthAdjust="spacingAndGlyphs"  stroke="#222" stroke-width="0.25">FSC-A</text>
<line x1="277" y1="196.8" x2="290" y2="196.8" stroke="#000" stroke-width="0.9" />
<path d="M292,196.8 L288.4,195.0 L288.4,198.60000000000002 Z" fill="#000" stroke="none" stroke-width="1" />
<line x1="277" y1="245.3" x2="290" y2="245.3" stroke="#000" stroke-width="0.9" />
<path d="M292,245.3 L288.4,243.5 L288.4,247.10000000000002 Z" fill="#000" stroke="none" stroke-width="1" />
<text x="293.6" y="229.2" font-size="9" font-weight="normal" text-anchor="start" fill="#222" textLength="20.6" lengthAdjust="spacingAndGlyphs" transform="rotate(-90 293.6 229.2)"  stroke="#222" stroke-width="0.25">Count</text>
<line x1="296" y1="174" x2="296" y2="264.2" stroke="#111" stroke-width="0.8" />
<line x1="296" y1="174.5" x2="339.5" y2="174.5" stroke="#aaa" stroke-width="0.5" />
<line x1="297" y1="176" x2="298.6" y2="176" stroke="#555" stroke-width="0.5" />
<line x1="297" y1="224.5" x2="298.6" y2="224.5" stroke="#555" stroke-width="0.5" />
<line x1="297" y1="183" x2="298.6" y2="183" stroke="#555" stroke-width="0.5" />
<line x1="297" y1="231.5" x2="298.6" y2="231.5" stroke="#555" stroke-width="0.5" />
<line x1="297" y1="190" x2="298.6" y2="190" stroke="#555" stroke-width="0.5" />
<line x1="297" y1="238.5" x2="298.6" y2="238.5" stroke="#555" stroke-width="0.5" />
<line x1="297" y1="197" x2="298.6" y2="197" stroke="#555" stroke-width="0.5" />
<line x1="297" y1="245.5" x2="298.6" y2="245.5" stroke="#555" stroke-width="0.5" />
<line x1="297" y1="204" x2="298.6" y2="204" stroke="#555" stroke-width="0.5" />
<line x1="297" y1="252.5" x2="298.6" y2="252.5" stroke="#555" stroke-width="0.5" />
<line x1="297" y1="211" x2="298.6" y2="211" stroke="#555" stroke-width="0.5" />
<line x1="297" y1="259.5" x2="298.6" y2="259.5" stroke="#555" stroke-width="0.5" />
<line x1="300.5" y1="175" x2="300.5" y2="212" stroke="#ccc" stroke-width="0.5" />
<line x1="296" y1="212.3" x2="339.5" y2="212.3" stroke="#d06080" stroke-width="0.7" />
<line x1="306" y1="214" x2="305.2" y2="216" stroke="#666" stroke-width="0.5" />
<line x1="306" y1="262" x2="305.2" y2="264" stroke="#666" stroke-width="0.5" />
<line x1="318" y1="214" x2="317.2" y2="216" stroke="#666" stroke-width="0.5" />
<line x1="318" y1="262" x2="317.2" y2="264" stroke="#666" stroke-width="0.5" />
<line x1="328" y1="214" x2="327.2" y2="216" stroke="#666" stroke-width="0.5" />
<line x1="328" y1="262" x2="327.2" y2="264" stroke="#666" stroke-width="0.5" />
<line x1="337" y1="214" x2="336.2" y2="216" stroke="#666" stroke-width="0.5" />
<line x1="337" y1="262" x2="336.2" y2="264" stroke="#666" stroke-width="0.5" />
<path d="M302.12,212.29 L302.37,212.29 L302.62,212.27 L302.87,212.23 L303.12,212.16 L303.37,212.02 L303.62,211.76 L303.87,211.32 L304.12,210.58 L304.37,209.43 L304.62,207.74 L304.87,205.38 L305.12,202.29 L305.37,198.49 L305.62,194.11 L305.87,189.46 L306.12,184.94 L306.37,181.04 L306.62,178.23 L306.87,176.89 L307.12,177.19 L307.37,179.09 L307.62,182.34 L307.87,186.52 L308.12,191.14 L308.37,195.74 L308.62,199.93 L308.87,203.49 L309.12,206.32 L309.37,208.42 L309.62,209.90 L309.87,210.89 L310.12,211.51 L310.37,211.87 L310.62,212.08 L310.87,212.19 L311.12,212.25 L311.37,212.28 L311.62,212.29" fill="none" stroke="#222" stroke-width="0.8" />
<path d="M301.67,212.29 L301.92,212.29 L302.17,212.27 L302.42,212.23 L302.67,212.16 L302.92,212.02 L303.17,211.76 L303.42,211.30 L303.67,210.56 L303.92,209.39 L304.17,207.68 L304.42,205.29 L304.67,202.15 L304.92,198.29 L305.17,193.86 L305.42,189.14 L305.67,184.55 L305.92,180.60 L306.17,177.75 L306.42,176.39 L306.67,176.69 L306.92,178.62 L307.17,181.92 L307.42,186.16 L307.67,190.84 L307.92,195.50 L308.17,199.76 L308.42,203.37 L308.67,206.23 L308.92,208.37 L309.17,209.87 L309.42,210.87 L309.67,211.49 L309.92,211.87 L310.17,212.08 L310.42,212.19 L310.67,212.25 L310.92,212.28 L311.17,212.29" fill="none" stroke="#2040e8" stroke-width="0.8" />
<path d="M301.98,212.29 L302.23,212.29 L302.48,212.27 L302.73,212.23 L302.98,212.14 L303.23,211.97 L303.48,211.66 L303.73,211.10 L303.98,210.19 L304.23,208.77 L304.48,206.68 L304.73,203.81 L304.98,200.13 L305.23,195.72 L305.48,190.86 L305.73,185.97 L305.98,181.59 L306.23,178.28 L306.48,176.51 L306.73,176.55 L306.98,178.39 L307.23,181.75 L307.48,186.16 L307.73,191.06 L307.98,195.91 L308.23,200.29 L308.48,203.94 L308.73,206.78 L308.98,208.83 L309.23,210.23 L309.48,211.13 L309.73,211.67 L309.98,211.98 L310.23,212.14 L310.48,212.23 L310.73,212.27 L310.98,212.29" fill="none" stroke="#ff1010" stroke-width="1.25" />
<line x1="311.3" y1="177.8" x2="318.6" y2="177.8" stroke="#ff1010" stroke-width="1.4" />
<text x="320.90000000000003" y="180.15" font-size="6.6" font-weight="normal" text-anchor="start" fill="#111" >Pro</text>
<line x1="311.3" y1="183.9" x2="318.6" y2="183.9" stroke="#2040e8" stroke-width="1.4" />
<text x="320.90000000000003" y="186.25" font-size="6.6" font-weight="normal" text-anchor="start" fill="#111" >Baso</text>
<line x1="311.3" y1="190.0" x2="318.6" y2="190.0" stroke="#40e020" stroke-width="1.4" />
<text x="320.90000000000003" y="192.35" font-size="6.6" font-weight="normal" text-anchor="start" fill="#111" >Poly</text>
<line x1="311.3" y1="196.10000000000002" x2="318.6" y2="196.10000000000002" stroke="#ff8010" stroke-width="1.4" />
<text x="320.90000000000003" y="198.45000000000002" font-size="6.6" font-weight="normal" text-anchor="start" fill="#111" >Ortho</text>
<line x1="311.3" y1="202.20000000000002" x2="318.6" y2="202.20000000000002" stroke="#222" stroke-width="1.4" />
<text x="320.90000000000003" y="204.55" font-size="6.6" font-weight="normal" text-anchor="start" fill="#111" >Retic</text>
<line x1="299.7" y1="222.4" x2="339.7" y2="222.4" stroke="#666" stroke-width="0.7" />
<line x1="296" y1="260.7" x2="339.5" y2="260.7" stroke="#181010" stroke-width="1.2" />
<line x1="306" y1="260.2" x2="317" y2="260.0" stroke="#a05020" stroke-width="0.8" />
<path d="M315.40,260.99 L315.65,260.99 L315.90,260.96 L316.15,260.91 L316.40,260.78 L316.65,260.53 L316.90,260.05 L317.15,259.19 L317.40,257.75 L317.65,255.55 L317.90,252.40 L318.15,248.24 L318.40,243.23 L318.65,237.76 L318.90,232.43 L319.15,228.01 L319.40,225.22 L319.65,224.55 L319.90,226.11 L320.15,229.62 L320.40,234.50 L320.65,239.97 L320.90,245.32 L321.15,250.02 L321.40,253.78 L321.65,256.54 L321.90,258.41 L322.15,259.59 L322.40,260.28 L322.65,260.65 L322.90,260.84 L323.15,260.93 L323.40,260.97 L323.65,260.99" fill="none" stroke="#222" stroke-width="0.9" />
<path d="M316.20,260.99 L316.45,260.99 L316.70,260.96 L316.95,260.91 L317.20,260.78 L317.45,260.53 L317.70,260.05 L317.95,259.19 L318.20,257.77 L318.45,255.58 L318.70,252.44 L318.95,248.31 L319.20,243.33 L319.45,237.88 L319.70,232.59 L319.95,228.20 L320.20,225.42 L320.45,224.75 L320.70,226.30 L320.95,229.80 L321.20,234.64 L321.45,240.08 L321.70,245.41 L321.95,250.08 L322.20,253.82 L322.45,256.56 L322.70,258.42 L322.95,259.59 L323.20,260.28 L323.45,260.65 L323.70,260.84 L323.95,260.93 L324.20,260.97 L324.45,260.99" fill="none" stroke="#ff8010" stroke-width="0.9" />
<path d="M318.01,260.99 L318.26,260.98 L318.51,260.96 L318.76,260.90 L319.01,260.75 L319.26,260.45 L319.51,259.87 L319.76,258.83 L320.01,257.10 L320.26,254.46 L320.51,250.77 L320.76,246.07 L321.01,240.66 L321.26,235.16 L321.51,230.36 L321.76,227.10 L322.01,226.00 L322.26,227.29 L322.51,230.70 L322.76,235.58 L323.01,241.11 L323.26,246.48 L323.51,251.10 L323.76,254.71 L324.01,257.27 L324.26,258.93 L324.51,259.93 L324.76,260.49 L325.01,260.77 L325.26,260.90 L325.51,260.96 L325.76,260.99" fill="none" stroke="#40e020" stroke-width="0.9" />
<path d="M319.51,260.99 L319.76,260.98 L320.01,260.96 L320.26,260.89 L320.51,260.74 L320.76,260.43 L321.01,259.83 L321.26,258.75 L321.51,256.95 L321.76,254.22 L322.01,250.39 L322.26,245.51 L322.51,239.91 L322.76,234.20 L323.01,229.22 L323.26,225.84 L323.51,224.70 L323.76,226.03 L324.01,229.57 L324.26,234.64 L324.51,240.37 L324.76,245.94 L325.01,250.74 L325.26,254.47 L325.51,257.13 L325.76,258.86 L326.01,259.89 L326.26,260.47 L326.51,260.76 L326.76,260.90 L327.01,260.96 L327.26,260.99" fill="none" stroke="#2040e8" stroke-width="0.9" />
<path d="M320.90,261.00 L321.15,260.99 L321.40,260.96 L321.65,260.91 L321.90,260.80 L322.15,260.56 L322.40,260.12 L322.65,259.32 L322.90,257.99 L323.15,255.95 L323.40,253.03 L323.65,249.19 L323.90,244.55 L324.15,239.48 L324.40,234.54 L324.65,230.45 L324.90,227.87 L325.15,227.24 L325.40,228.69 L325.65,231.94 L325.90,236.46 L326.15,241.52 L326.40,246.48 L326.65,250.83 L326.90,254.31 L327.15,256.87 L327.40,258.60 L327.65,259.69 L327.90,260.33 L328.15,260.68 L328.40,260.85 L328.65,260.94 L328.90,260.98 L329.15,260.99" fill="none" stroke="#ff1010" stroke-width="0.9" />
<text x="294" y="275.4" font-size="9.8" font-weight="normal" text-anchor="start" fill="#222" textLength="50.4" lengthAdjust="spacingAndGlyphs"  stroke="#222" stroke-width="0.25">EpoR-tdTomato</text>
<text x="365" y="178.4" font-size="8" font-weight="bold" text-anchor="start" fill="#000" >b</text>
<rect x="375.3" y="172" width="66.4" height="52" fill="url(#gProBg)" stroke="#555" stroke-width="0.9" />
<g filter="url(#b05)">
<g filter="url(#b2)">
<ellipse cx="400" cy="220.5" rx="19" ry="5" fill="#a890e8" stroke="none" stroke-width="1" opacity="0.75"/>
<ellipse cx="393" cy="222.5" rx="10" ry="2.5" fill="#8868e0" stroke="none" stroke-width="1" opacity="0.6"/>
</g>
<ellipse cx="399.2" cy="187.3" rx="10.962" ry="8.7" fill="url(#gPro)" stroke="none" stroke-width="1" transform="rotate(-15 399.2 187.3)"/>
<ellipse cx="399.5" cy="187.8" rx="7.892639999999999" ry="6.089999999999999" fill="url(#gProN)" stroke="none" stroke-width="1" transform="rotate(-15 399.2 187.3)"/>
<ellipse cx="418.5" cy="190.6" rx="7.9" ry="7.9" fill="url(#gPro)" stroke="none" stroke-width="1" transform="rotate(20 418.5 190.6)"/>
<ellipse cx="418.8" cy="191.1" rx="5.688" ry="5.53" fill="url(#gProN)" stroke="none" stroke-width="1" transform="rotate(20 418.5 190.6)"/>
<ellipse cx="388.3" cy="202.4" rx="10.0" ry="10.0" fill="url(#gPro)" stroke="none" stroke-width="1" transform="rotate(10 388.3 202.4)"/>
<ellipse cx="388.6" cy="202.9" rx="7.199999999999999" ry="7.0" fill="url(#gProN)" stroke="none" stroke-width="1" transform="rotate(10 388.3 202.4)"/>
<ellipse cx="409.6" cy="207.6" rx="8.93" ry="9.4" fill="url(#gPro)" stroke="none" stroke-width="1" transform="rotate(0 409.6 207.6)"/>
<ellipse cx="409.90000000000003" cy="208.1" rx="6.4296" ry="6.58" fill="url(#gProN)" stroke="none" stroke-width="1" transform="rotate(0 409.6 207.6)"/>
<ellipse cx="429.3" cy="205.0" rx="8.459999999999999" ry="9.0" fill="url(#gPro)" stroke="none" stroke-width="1" transform="rotate(0 429.3 205.0)"/>
<ellipse cx="429.6" cy="205.5" rx="6.091199999999999" ry="6.3" fill="url(#gProN)" stroke="none" stroke-width="1" transform="rotate(0 429.3 205.0)"/>
</g>
<text x="377" y="179.4" font-size="6.8" font-weight="bold" text-anchor="start" fill="#000" textLength="9.8" lengthAdjust="spacingAndGlyphs" >Pro</text>
<text x="441.2" y="219.79999999999998" font-size="7.2" font-weight="bold" text-anchor="end" fill="#000" textLength="15.8" lengthAdjust="spacingAndGlyphs"  stroke="#000" stroke-width="0.15">10µm</text>
<line x1="427.8" y1="222.2" x2="440" y2="222.2" stroke="#000" stroke-width="1.2" />
<rect x="445.0" y="171.7" width="67.3" height="52.9" fill="#b0b2b0" stroke="none" stroke-width="1" />
<rect x="445.4" y="172" width="21.1" height="25.2" fill="#e4ece8" stroke="#666" stroke-width="0.7" />
<rect x="468.5" y="172" width="21.1" height="25.2" fill="#e4ece8" stroke="#666" stroke-width="0.7" />
<rect x="491.0" y="172" width="21.1" height="25.2" fill="#e4ece8" stroke="#666" stroke-width="0.7" />
<rect x="445.4" y="199.3" width="21.1" height="25.2" fill="#e4ece8" stroke="#666" stroke-width="0.7" />
<rect x="468.5" y="199.3" width="21.1" height="25.2" fill="#e4ece8" stroke="#666" stroke-width="0.7" />
<rect x="491.0" y="199.3" width="21.1" height="25.2" fill="#e4ece8" stroke="#666" stroke-width="0.7" />
<g filter="url(#b05)">
<ellipse cx="456.6" cy="185.7" rx="6.6" ry="6.6" fill="url(#gBaso)" stroke="none" stroke-width="1" transform="rotate(0 456.6 185.7)"/>
<ellipse cx="456.6" cy="185.89999999999998" rx="4.619999999999999" ry="4.488" fill="url(#gBasoN)" stroke="none" stroke-width="1" />
<ellipse cx="478.7" cy="186.7" rx="7.6" ry="7.6" fill="url(#gBaso)" stroke="none" stroke-width="1" transform="rotate(0 478.7 186.7)"/>
<ellipse cx="478.7" cy="186.89999999999998" rx="5.319999999999999" ry="5.168" fill="url(#gBasoN)" stroke="none" stroke-width="1" />
<ellipse cx="501.9" cy="186" rx="6.5" ry="6.5" fill="url(#gBaso)" stroke="none" stroke-width="1" transform="rotate(0 501.9 186)"/>
<ellipse cx="501.9" cy="186.2" rx="5.07" ry="4.94" fill="url(#gBasoD)" stroke="none" stroke-width="1" />
<ellipse cx="456.6" cy="211.6" rx="6.9" ry="6.9" fill="url(#gBaso)" stroke="none" stroke-width="1" transform="rotate(0 456.6 211.6)"/>
<ellipse cx="456.6" cy="211.79999999999998" rx="4.83" ry="4.692" fill="url(#gBasoN)" stroke="none" stroke-width="1" />
<ellipse cx="478.9" cy="211.8" rx="6.7" ry="6.7" fill="url(#gBaso)" stroke="none" stroke-width="1" transform="rotate(0 478.9 211.8)"/>
<ellipse cx="478.9" cy="212.0" rx="4.6899999999999995" ry="4.556" fill="url(#gBasoN)" stroke="none" stroke-width="1" />
<ellipse cx="501.4" cy="208.3" rx="6.6" ry="6.6" fill="url(#gBaso)" stroke="none" stroke-width="1" transform="rotate(0 501.4 208.3)"/>
<ellipse cx="501.4" cy="208.5" rx="5.148" ry="5.016" fill="url(#gBasoD)" stroke="none" stroke-width="1" />
</g>
<text x="447.0" y="179.4" font-size="6.8" font-weight="bold" text-anchor="start" fill="#000" textLength="13" lengthAdjust="spacingAndGlyphs" >Baso</text>
<text x="511.2" y="219.6" font-size="7.2" font-weight="bold" text-anchor="end" fill="#000" textLength="15.8" lengthAdjust="spacingAndGlyphs"  stroke="#000" stroke-width="0.15">10µm</text>
<line x1="497.79999999999995" y1="221.79999999999998" x2="510.0" y2="221.79999999999998" stroke="#000" stroke-width="1.2" />
<rect x="375.0" y="228.0" width="67.3" height="52.9" fill="#b0b2b0" stroke="none" stroke-width="1" />
<rect x="375.4" y="228.3" width="21.1" height="25.2" fill="#e4ece8" stroke="#666" stroke-width="0.7" />
<rect x="398.5" y="228.3" width="21.1" height="25.2" fill="#e4ece8" stroke="#666" stroke-width="0.7" />
<rect x="421.0" y="228.3" width="21.1" height="25.2" fill="#e4ece8" stroke="#666" stroke-width="0.7" />
<rect x="375.4" y="255.60000000000002" width="21.1" height="25.2" fill="#e4ece8" stroke="#666" stroke-width="0.7" />
<rect x="398.5" y="255.60000000000002" width="21.1" height="25.2" fill="#e4ece8" stroke="#666" stroke-width="0.7" />
<rect x="421.0" y="255.60000000000002" width="21.1" height="25.2" fill="#e4ece8" stroke="#666" stroke-width="0.7" />
<g filter="url(#b05)">
<ellipse cx="427.0" cy="236.6" rx="3.1" ry="3.8" fill="#8a9af0" stroke="none" stroke-width="1" transform="rotate(20 427.2 236.2)"/>
<ellipse cx="386.9" cy="244.7" rx="6.2" ry="6.2" fill="url(#gPoly)" stroke="none" stroke-width="1" transform="rotate(0 386.9 244.7)"/>
<ellipse cx="386.79999999999995" cy="245.0" rx="4.4639999999999995" ry="4.4639999999999995" fill="url(#gPolyN)" stroke="none" stroke-width="1" />
<ellipse cx="411.1" cy="242.6" rx="6.6" ry="6.6" fill="url(#gPoly)" stroke="none" stroke-width="1" transform="rotate(0 411.1 242.6)"/>
<ellipse cx="411.0" cy="242.9" rx="4.752" ry="4.752" fill="url(#gPolyN)" stroke="none" stroke-width="1" />
<ellipse cx="425.9" cy="242.0" rx="5.6" ry="5.6" fill="url(#gPoly)" stroke="none" stroke-width="1" transform="rotate(0 425.9 242.0)"/>
<ellipse cx="425.79999999999995" cy="242.3" rx="4.032" ry="4.032" fill="url(#gPolyN)" stroke="none" stroke-width="1" />
<ellipse cx="387.2" cy="268.2" rx="7.344" ry="6.8" fill="url(#gPoly)" stroke="none" stroke-width="1" transform="rotate(15 387.2 268.2)"/>
<ellipse cx="387.09999999999997" cy="268.5" rx="4.896" ry="4.896" fill="url(#gPolyN)" stroke="none" stroke-width="1" />
<ellipse cx="408.3" cy="268.7" rx="6.8" ry="6.8" fill="url(#gPoly)" stroke="none" stroke-width="1" transform="rotate(0 408.3 268.7)"/>
<ellipse cx="408.2" cy="269.0" rx="4.896" ry="4.896" fill="url(#gPolyN)" stroke="none" stroke-width="1" />
<ellipse cx="428.4" cy="262.7" rx="6.615" ry="6.3" fill="url(#gPoly)" stroke="none" stroke-width="1" transform="rotate(40 428.4 262.7)"/>
<ellipse cx="428.29999999999995" cy="263.0" rx="4.536" ry="4.536" fill="url(#gPolyN)" stroke="none" stroke-width="1" />
</g>
<text x="377.0" y="235.70000000000002" font-size="6.8" font-weight="bold" text-anchor="start" fill="#000" textLength="12.5" lengthAdjust="spacingAndGlyphs" >Poly</text>
<text x="441.2" y="277.40000000000003" font-size="7.2" font-weight="bold" text-anchor="end" fill="#000" textLength="15.8" lengthAdjust="spacingAndGlyphs"  stroke="#000" stroke-width="0.15">10µm</text>
<line x1="427.79999999999995" y1="278.7" x2="440.0" y2="278.7" stroke="#000" stroke-width="1.2" />
<rect x="445.0" y="228.0" width="67.3" height="52.9" fill="#b0b2b0" stroke="none" stroke-width="1" />
<rect x="445.4" y="228.3" width="21.1" height="25.2" fill="#e4ece8" stroke="#666" stroke-width="0.7" />
<rect x="468.5" y="228.3" width="21.1" height="25.2" fill="#e4ece8" stroke="#666" stroke-width="0.7" />
<rect x="491.0" y="228.3" width="21.1" height="25.2" fill="#e4ece8" stroke="#666" stroke-width="0.7" />
<rect x="445.4" y="255.60000000000002" width="21.1" height="25.2" fill="#e4ece8" stroke="#666" stroke-width="0.7" />
<rect x="468.5" y="255.60000000000002" width="21.1" height="25.2" fill="#e4ece8" stroke="#666" stroke-width="0.7" />
<rect x="491.0" y="255.60000000000002" width="21.1" height="25.2" fill="#e4ece8" stroke="#666" stroke-width="0.7" />
<g filter="url(#b05)">
<ellipse cx="457.6" cy="243.2" rx="5.6" ry="5.6" fill="url(#gOrtho)" stroke="none" stroke-width="1" transform="rotate(0 457.6 243.2)"/>
<ellipse cx="478.7" cy="244" rx="5.6" ry="5.6" fill="url(#gOrtho)" stroke="none" stroke-width="1" transform="rotate(0 478.7 244)"/>
<ellipse cx="500.5" cy="239.8" rx="5.5" ry="5.5" fill="url(#gOrtho)" stroke="none" stroke-width="1" transform="rotate(0 500.5 239.8)"/>
<ellipse cx="456.2" cy="268.9" rx="6.2" ry="6.2" fill="url(#gOrtho)" stroke="none" stroke-width="1" transform="rotate(0 456.2 268.9)"/>
<ellipse cx="483.6" cy="265.2" rx="5.0" ry="5.0" fill="url(#gOrtho)" stroke="none" stroke-width="1" transform="rotate(0 483.6 265.2)"/>
<ellipse cx="496.7" cy="266.9" rx="5.4" ry="5.4" fill="url(#gOrtho)" stroke="none" stroke-width="1" transform="rotate(0 496.7 266.9)"/>
</g>
<text x="447.0" y="235.70000000000002" font-size="6.8" font-weight="bold" text-anchor="start" fill="#000" textLength="17" lengthAdjust="spacingAndGlyphs" >Ortho</text>
<text x="511.2" y="277.40000000000003" font-size="7.2" font-weight="bold" text-anchor="end" fill="#000" textLength="15.8" lengthAdjust="spacingAndGlyphs"  stroke="#000" stroke-width="0.15">10µm</text>
<line x1="497.79999999999995" y1="278.7" x2="510.0" y2="278.7" stroke="#000" stroke-width="1.2" />
<g>
<text x="24.6" y="291.6" font-size="8" font-weight="bold" text-anchor="start" fill="#000" >b</text>
<rect x="30.8" y="289.8" width="141.39999999999998" height="88.80000000000001" fill="#000" stroke="none" stroke-width="1" />
<rect x="30.8" y="296.0" width="28.099999999999998" height="17.19999999999999" fill="#899997" stroke="none" stroke-width="1" />
<rect x="31.6" y="296.9" width="2.6" height="0.9" fill="#4a5452" stroke="none" stroke-width="1" opacity="0.7"/>
<rect x="30.8" y="314.6" width="28.099999999999998" height="13.399999999999977" fill="#899997" stroke="none" stroke-width="1" />
<rect x="31.6" y="315.5" width="2.6" height="0.9" fill="#4a5452" stroke="none" stroke-width="1" opacity="0.7"/>
<rect x="30.8" y="329.0" width="28.099999999999998" height="14.300000000000011" fill="#899997" stroke="none" stroke-width="1" />
<rect x="31.6" y="329.9" width="2.6" height="0.9" fill="#4a5452" stroke="none" stroke-width="1" opacity="0.7"/>
<rect x="30.8" y="344.8" width="28.099999999999998" height="11.0" fill="#899997" stroke="none" stroke-width="1" />
<rect x="31.6" y="345.7" width="2.6" height="0.9" fill="#4a5452" stroke="none" stroke-width="1" opacity="0.7"/>
<rect x="30.8" y="357.2" width="28.099999999999998" height="8.699999999999989" fill="#899997" stroke="none" stroke-width="1" />
<rect x="31.6" y="358.09999999999997" width="2.6" height="0.9" fill="#4a5452" stroke="none" stroke-width="1" opacity="0.7"/>
<rect x="30.8" y="367.3" width="28.099999999999998" height="11.300000000000011" fill="#899997" stroke="none" stroke-width="1" />
<rect x="31.6" y="368.2" width="2.6" height="0.9" fill="#4a5452" stroke="none" stroke-width="1" opacity="0.7"/>
<text x="45" y="294.8" font-size="4.6" font-weight="normal" text-anchor="middle" fill="#fff" textLength="10" lengthAdjust="spacingAndGlyphs" >Ch01</text>
<text x="73.2" y="294.8" font-size="4.6" font-weight="normal" text-anchor="middle" fill="#fff" textLength="18" lengthAdjust="spacingAndGlyphs" >tdTomato</text>
<text x="101" y="294.8" font-size="4.6" font-weight="normal" text-anchor="middle" fill="#fff" textLength="13.5" lengthAdjust="spacingAndGlyphs" >Ter119</text>
<text x="129.5" y="294.8" font-size="4.6" font-weight="normal" text-anchor="middle" fill="#fff" textLength="11.5" lengthAdjust="spacingAndGlyphs" >CD44</text>
<text x="157.6" y="294.8" font-size="4.6" font-weight="normal" text-anchor="middle" fill="#fff" textLength="24" lengthAdjust="spacingAndGlyphs" >Composites</text>
<text x="28.4" y="307" font-size="8.2" font-weight="normal" text-anchor="end" fill="#222" >Pro</text>
<text x="28.4" y="324.3" font-size="8.2" font-weight="normal" text-anchor="end" fill="#222" >Baso</text>
<text x="28.4" y="338.2" font-size="8.2" font-weight="normal" text-anchor="end" fill="#222" >Poly</text>
<text x="28.4" y="352.0" font-size="8.2" font-weight="normal" text-anchor="end" fill="#222" >Ortho</text>
<text x="28.4" y="364.0" font-size="8.2" font-weight="normal" text-anchor="end" fill="#222" >Retic</text>
<text x="28.4" y="374.5" font-size="8.2" font-weight="normal" text-anchor="end" fill="#222" >RBC</text>
<g filter="url(#b05)">
<circle cx="44.3" cy="304.2" r="4.3" fill="#a3b0ae" stroke="none" stroke-width="1" />
<circle cx="44.3" cy="304.2" r="3.6" fill="#d4dbd9" stroke="#1c2120" stroke-width="0.75" />
<circle cx="44.3" cy="304.2" r="1.8" fill="#b4bebc" stroke="#444" stroke-width="0.4" />
<circle cx="44.3" cy="320.9" r="3.5999999999999996" fill="#a3b0ae" stroke="none" stroke-width="1" />
<circle cx="44.3" cy="320.9" r="2.9" fill="#d4dbd9" stroke="#1c2120" stroke-width="0.75" />
<circle cx="44.3" cy="320.9" r="1.45" fill="#b4bebc" stroke="#444" stroke-width="0.4" />
<circle cx="44.8" cy="335.6" r="3.4000000000000004" fill="#a3b0ae" stroke="none" stroke-width="1" />
<circle cx="44.8" cy="335.6" r="2.7" fill="#d4dbd9" stroke="#1c2120" stroke-width="0.75" />
<circle cx="44.8" cy="335.6" r="1.35" fill="#b4bebc" stroke="#444" stroke-width="0.4" />
<circle cx="45" cy="350.3" r="2.8" fill="#a3b0ae" stroke="none" stroke-width="1" />
<circle cx="45" cy="350.3" r="2.1" fill="#d4dbd9" stroke="#1c2120" stroke-width="0.75" />
<circle cx="45" cy="350.3" r="1.05" fill="#b4bebc" stroke="#444" stroke-width="0.4" />
<circle cx="45.5" cy="361" r="2.8" fill="#a3b0ae" stroke="none" stroke-width="1" />
<circle cx="45.5" cy="361" r="2.1" fill="#d4dbd9" stroke="#1c2120" stroke-width="0.75" />
<circle cx="45.5" cy="361" r="1.05" fill="#b4bebc" stroke="#444" stroke-width="0.4" />
<circle cx="45.5" cy="361" r="1.26" fill="#f4f4f4" stroke="none" stroke-width="1" />
<circle cx="46" cy="373" r="2.7" fill="#a3b0ae" stroke="none" stroke-width="1" />
<circle cx="46" cy="373" r="2.0" fill="#d4dbd9" stroke="#1c2120" stroke-width="0.75" />
<circle cx="46" cy="373" r="1.0" fill="#b4bebc" stroke="#444" stroke-width="0.4" />
<circle cx="73.2" cy="304.2" r="3.3" fill="#b4c814" stroke="none" stroke-width="1" />
<circle cx="73.2" cy="304.2" r="1.8" fill="#c8dc20" stroke="none" stroke-width="1" />
<ellipse cx="72.8" cy="320.9" rx="2.4" ry="2.0" fill="#a8bc14" stroke="none" stroke-width="1" />
<ellipse cx="72.8" cy="335.6" rx="1.7" ry="2.0" fill="#8aa010" stroke="none" stroke-width="1" />
<ellipse cx="72.6" cy="350.1" rx="0.6" ry="1.3" fill="#7a9010" stroke="none" stroke-width="1" transform="rotate(-40 72.6 350.1)"/>
<ellipse cx="73.3" cy="360.8" rx="0.8" ry="0.8" fill="#90a810" stroke="none" stroke-width="1" />
<ellipse cx="73.7" cy="373" rx="0.7" ry="1.4" fill="#90a810" stroke="none" stroke-width="1" transform="rotate(-35 73.7 373)"/>
<circle cx="101.3" cy="320.9" r="2.8" fill="none" stroke="#5a3cff" stroke-width="1.2" opacity="1"/>
<circle cx="101.3" cy="335.6" r="2.2" fill="none" stroke="#6040ff" stroke-width="1.3" opacity="1"/>
<circle cx="101.0" cy="350.3" r="1.7" fill="none" stroke="#4a2cff" stroke-width="1.0" opacity="1"/>
<circle cx="101.0" cy="361.0" r="1.4" fill="none" stroke="#4a2cff" stroke-width="1.0" opacity="1"/>
<circle cx="101.6" cy="373.0" r="1.2" fill="none" stroke="#5a30f0" stroke-width="1.1" opacity="1"/>
<circle cx="130.0" cy="305" r="3.2" fill="none" stroke="#ff1010" stroke-width="1.6" opacity="1"/>
<circle cx="127.3" cy="321.2" r="0.5" fill="#700000" stroke="none" stroke-width="1" />
<circle cx="157.8" cy="304.4" r="3.8" fill="#ff6a10" stroke="none" stroke-width="1" />
<circle cx="157.8" cy="304.4" r="2.3" fill="#ffa020" stroke="none" stroke-width="1" />
<circle cx="157.8" cy="320.9" r="2.9" fill="#e060d0" stroke="none" stroke-width="1" />
<circle cx="157.8" cy="320.9" r="1.6" fill="#e8b030" stroke="none" stroke-width="1" />
<circle cx="157.6" cy="335.6" r="2.3" fill="#e868d8" stroke="none" stroke-width="1" />
<circle cx="157.6" cy="335.6" r="1.1" fill="#e8a040" stroke="none" stroke-width="1" />
<circle cx="157.5" cy="350.3" r="1.9" fill="#c850d0" stroke="none" stroke-width="1" />
<circle cx="157.7" cy="350.3" r="0.8" fill="#e88040" stroke="none" stroke-width="1" />
<circle cx="157.8" cy="361" r="1.5" fill="#c048d0" stroke="none" stroke-width="1" />
<circle cx="158.0" cy="361" r="0.7" fill="#f08040" stroke="none" stroke-width="1" />
<ellipse cx="158.2" cy="373" rx="1.2" ry="1.6" fill="#d050d8" stroke="none" stroke-width="1" />
<circle cx="158.2" cy="373.2" r="0.6" fill="#f0a0c0" stroke="none" stroke-width="1" />
</g>
<text x="198.8" y="292.2" font-size="8" font-weight="bold" text-anchor="start" fill="#000" >c</text>
<rect x="206.2" y="290.0" width="141.8" height="81.0" fill="#000" stroke="none" stroke-width="1" />
<rect x="206.2" y="295.7" width="28.80000000000001" height="16.19999999999999" fill="#899997" stroke="none" stroke-width="1" />
<rect x="207.0" y="296.59999999999997" width="2.6" height="0.9" fill="#4a5452" stroke="none" stroke-width="1" opacity="0.7"/>
<rect x="206.2" y="313.4" width="28.80000000000001" height="14.800000000000011" fill="#899997" stroke="none" stroke-width="1" />
<rect x="207.0" y="314.29999999999995" width="2.6" height="0.9" fill="#4a5452" stroke="none" stroke-width="1" opacity="0.7"/>
<rect x="206.2" y="329.6" width="28.80000000000001" height="13.0" fill="#899997" stroke="none" stroke-width="1" />
<rect x="207.0" y="330.5" width="2.6" height="0.9" fill="#4a5452" stroke="none" stroke-width="1" opacity="0.7"/>
<rect x="206.2" y="344.2" width="28.80000000000001" height="13.100000000000023" fill="#899997" stroke="none" stroke-width="1" />
<rect x="207.0" y="345.09999999999997" width="2.6" height="0.9" fill="#4a5452" stroke="none" stroke-width="1" opacity="0.7"/>
<rect x="206.2" y="359.0" width="28.80000000000001" height="12.0" fill="#899997" stroke="none" stroke-width="1" />
<rect x="207.0" y="359.9" width="2.6" height="0.9" fill="#4a5452" stroke="none" stroke-width="1" opacity="0.7"/>
<text x="220.8" y="295.0" font-size="4.6" font-weight="normal" text-anchor="middle" fill="#fff" textLength="10" lengthAdjust="spacingAndGlyphs" >Ch01</text>
<text x="248.7" y="295.0" font-size="4.6" font-weight="normal" text-anchor="middle" fill="#fff" textLength="18" lengthAdjust="spacingAndGlyphs" >tdTomato</text>
<text x="277" y="295.0" font-size="4.6" font-weight="normal" text-anchor="middle" fill="#fff" textLength="13" lengthAdjust="spacingAndGlyphs" >Ter119</text>
<text x="305.5" y="295.0" font-size="4.6" font-weight="normal" text-anchor="middle" fill="#fff" textLength="11.5" lengthAdjust="spacingAndGlyphs" >CD44</text>
<text x="333.8" y="295.0" font-size="4.6" font-weight="normal" text-anchor="middle" fill="#fff" textLength="24" lengthAdjust="spacingAndGlyphs" >Composites</text>
<text x="204.2" y="307" font-size="8.2" font-weight="normal" text-anchor="end" fill="#222" >Pro</text>
<text x="204.2" y="324.3" font-size="8.2" font-weight="normal" text-anchor="end" fill="#222" >Baso</text>
<text x="204.2" y="337.5" font-size="8.2" font-weight="normal" text-anchor="end" fill="#222" >Poly</text>
<text x="204.2" y="352.0" font-size="8.2" font-weight="normal" text-anchor="end" fill="#222" >Ortho</text>
<text x="204.2" y="366.4" font-size="8.2" font-weight="normal" text-anchor="end" fill="#222" >Retic</text>
<g filter="url(#b05)">
<circle cx="221.5" cy="303.8" r="4.4" fill="#a3b0ae" stroke="none" stroke-width="1" />
<circle cx="221.5" cy="303.8" r="3.7" fill="#d4dbd9" stroke="#1c2120" stroke-width="0.75" />
<circle cx="221.5" cy="303.8" r="1.85" fill="#b4bebc" stroke="#444" stroke-width="0.4" />
<circle cx="221.5" cy="320.7" r="4.0" fill="#a3b0ae" stroke="none" stroke-width="1" />
<circle cx="221.5" cy="320.7" r="3.3" fill="#d4dbd9" stroke="#1c2120" stroke-width="0.75" />
<circle cx="221.5" cy="320.7" r="1.65" fill="#b4bebc" stroke="#444" stroke-width="0.4" />
<circle cx="221.3" cy="336" r="3.4000000000000004" fill="#a3b0ae" stroke="none" stroke-width="1" />
<circle cx="221.3" cy="336" r="2.7" fill="#d4dbd9" stroke="#1c2120" stroke-width="0.75" />
<circle cx="221.3" cy="336" r="1.35" fill="#b4bebc" stroke="#444" stroke-width="0.4" />
<circle cx="221.5" cy="350.5" r="3.2" fill="#a3b0ae" stroke="none" stroke-width="1" />
<circle cx="221.5" cy="350.5" r="2.5" fill="#d4dbd9" stroke="#1c2120" stroke-width="0.75" />
<circle cx="221.5" cy="350.5" r="1.25" fill="#b4bebc" stroke="#444" stroke-width="0.4" />
<circle cx="221.5" cy="350.5" r="1.5" fill="#f4f4f4" stroke="none" stroke-width="1" />
<circle cx="220.7" cy="364.3" r="2.3" fill="#a3b0ae" stroke="none" stroke-width="1" />
<circle cx="220.7" cy="364.3" r="1.6" fill="#d4dbd9" stroke="#1c2120" stroke-width="0.75" />
<circle cx="220.7" cy="364.3" r="0.8" fill="#b4bebc" stroke="#444" stroke-width="0.4" />
<circle cx="249" cy="303.8" r="3.4" fill="#88b018" stroke="none" stroke-width="1" />
<circle cx="249" cy="303.8" r="2.0" fill="#a4cc28" stroke="none" stroke-width="1" />
<ellipse cx="249" cy="320.8" rx="2.2" ry="2.4" fill="#88a814" stroke="none" stroke-width="1" />
<ellipse cx="249.3" cy="335.7" rx="1.5" ry="1.8" fill="#6a9010" stroke="none" stroke-width="1" />
<ellipse cx="249.3" cy="351.2" rx="1.6" ry="0.6" fill="#5c7c10" stroke="none" stroke-width="1" />
<ellipse cx="248.9" cy="364.2" rx="0.7" ry="1.5" fill="#a0b818" stroke="none" stroke-width="1" />
<circle cx="277.3" cy="320.8" r="3.0" fill="none" stroke="#3a2cf0" stroke-width="1.1" opacity="1"/>
<circle cx="277.3" cy="335.6" r="2.5" fill="none" stroke="#3a2cf0" stroke-width="1.1" opacity="1"/>
<circle cx="277.6" cy="350.4" r="2.0" fill="none" stroke="#3a2cf0" stroke-width="1.1" opacity="1"/>
<ellipse cx="277.3" cy="364.2" rx="1.1" ry="1.8" fill="none" stroke="#3024c8" stroke-width="0.9" opacity="1"/>
<circle cx="305.8" cy="303.8" r="3.8" fill="none" stroke="#ff1a10" stroke-width="2.2" opacity="1"/>
<circle cx="305.8" cy="320.6" r="2.6" fill="none" stroke="#600000" stroke-width="0.7" opacity="0.9"/>
<circle cx="307.2" cy="334" r="0.45" fill="#900000" stroke="none" stroke-width="1" />
<circle cx="333.6" cy="303.8" r="4.6" fill="#ff3c08" stroke="none" stroke-width="1" />
<circle cx="333.6" cy="303.8" r="2.8" fill="#ff8218" stroke="none" stroke-width="1" />
<circle cx="334" cy="320.8" r="3.3" fill="#e058c8" stroke="none" stroke-width="1" />
<ellipse cx="333.6" cy="320.8" rx="2.0" ry="1.7" fill="#d8a030" stroke="none" stroke-width="1" />
<circle cx="334" cy="335.6" r="2.6" fill="#e860d0" stroke="none" stroke-width="1" />
<circle cx="333.8" cy="335.6" r="1.4" fill="#d89040" stroke="none" stroke-width="1" />
<circle cx="334.4" cy="350.4" r="2.3" fill="#e060d0" stroke="none" stroke-width="1" />
<ellipse cx="334.2" cy="350.2" rx="1.5" ry="0.8" fill="#e09040" stroke="none" stroke-width="1" />
<ellipse cx="333.9" cy="364.2" rx="1.0" ry="1.9" fill="#f0a040" stroke="none" stroke-width="1" />
<ellipse cx="334.4" cy="364.4" rx="0.5" ry="1.4" fill="#c040c0" stroke="none" stroke-width="1" />
</g>
</g>
<text x="362.3" y="295.6" font-size="11" font-weight="bold" text-anchor="start" fill="#000" >E</text>
<text x="362.6" y="365.4" font-size="8.8" font-weight="normal" text-anchor="start" fill="#111" textLength="62.5" lengthAdjust="spacingAndGlyphs" transform="rotate(-90 362.6 365.4)"  stroke="#111" stroke-width="0.2">Mean fluorescence</text>
<text x="373.8" y="362.8" font-size="8.8" font-weight="normal" text-anchor="start" fill="#111" textLength="58.5" lengthAdjust="spacingAndGlyphs" transform="rotate(-90 373.8 362.8)"  stroke="#111" stroke-width="0.2">of EpoR-tdTomato</text>
<line x1="400.0" y1="294.8" x2="400.0" y2="374.0" stroke="#000" stroke-width="1.5" />
<line x1="399.5" y1="373.5" x2="508.6" y2="373.5" stroke="#000" stroke-width="1.4" />
<line x1="412.2" y1="373.5" x2="412.2" y2="376.9" stroke="#000" stroke-width="1.1" />
<line x1="440.3" y1="373.5" x2="440.3" y2="376.9" stroke="#000" stroke-width="1.1" />
<line x1="468.1" y1="373.5" x2="468.1" y2="376.9" stroke="#000" stroke-width="1.1" />
<line x1="495.6" y1="373.5" x2="495.6" y2="376.9" stroke="#000" stroke-width="1.1" />
<line x1="396.6" y1="295.4" x2="400.0" y2="295.4" stroke="#000" stroke-width="1.2" />
<text x="393.8" y="298.29999999999995" font-size="8.2" font-weight="normal" text-anchor="end" fill="#111" >8000</text>
<line x1="396.6" y1="314.9" x2="400.0" y2="314.9" stroke="#000" stroke-width="1.2" />
<text x="393.8" y="317.79999999999995" font-size="8.2" font-weight="normal" text-anchor="end" fill="#111" >6000</text>
<line x1="396.6" y1="334.4" x2="400.0" y2="334.4" stroke="#000" stroke-width="1.2" />
<text x="393.8" y="337.29999999999995" font-size="8.2" font-weight="normal" text-anchor="end" fill="#111" >4000</text>
<line x1="396.6" y1="353.9" x2="400.0" y2="353.9" stroke="#000" stroke-width="1.2" />
<text x="393.8" y="356.79999999999995" font-size="8.2" font-weight="normal" text-anchor="end" fill="#111" >2000</text>
<line x1="396.6" y1="373.4" x2="400.0" y2="373.4" stroke="#000" stroke-width="1.2" />
<text x="393.8" y="376.29999999999995" font-size="8.2" font-weight="normal" text-anchor="end" fill="#111" >0</text>
<rect x="403.2" y="307.2" width="6.900000000000034" height="65.90000000000003" fill="#0a30c0" stroke="none" stroke-width="1" />
<line x1="406.65" y1="307.2" x2="406.65" y2="303.7" stroke="#111" stroke-width="0.9" />
<line x1="404.45" y1="303.7" x2="408.84999999999997" y2="303.7" stroke="#111" stroke-width="1.0" />
<rect x="413.9" y="311.2" width="7.0" height="61.900000000000034" fill="#d2101c" stroke="none" stroke-width="1" />
<line x1="417.4" y1="311.2" x2="417.4" y2="307.7" stroke="#111" stroke-width="0.9" />
<line x1="415.2" y1="307.7" x2="419.59999999999997" y2="307.7" stroke="#111" stroke-width="1.0" />
<rect x="431.4" y="333" width="7.0" height="40.10000000000002" fill="#0a30c0" stroke="none" stroke-width="1" />
<line x1="434.9" y1="333" x2="434.9" y2="331.6" stroke="#111" stroke-width="0.9" />
<line x1="432.7" y1="331.6" x2="437.09999999999997" y2="331.6" stroke="#111" stroke-width="1.0" />
<rect x="442.0" y="332.3" width="7.0" height="40.80000000000001" fill="#d2101c" stroke="none" stroke-width="1" />
<line x1="445.5" y1="332.3" x2="445.5" y2="330.7" stroke="#111" stroke-width="0.9" />
<line x1="443.3" y1="330.7" x2="447.7" y2="330.7" stroke="#111" stroke-width="1.0" />
<rect x="459.2" y="343.4" width="7.0" height="29.700000000000045" fill="#0a30c0" stroke="none" stroke-width="1" />
<line x1="462.7" y1="343.4" x2="462.7" y2="342.4" stroke="#111" stroke-width="0.9" />
<line x1="460.5" y1="342.4" x2="464.9" y2="342.4" stroke="#111" stroke-width="1.0" />
<rect x="470" y="343" width="7" height="30.100000000000023" fill="#d2101c" stroke="none" stroke-width="1" />
<line x1="473.5" y1="343" x2="473.5" y2="341.6" stroke="#111" stroke-width="0.9" />
<line x1="471.3" y1="341.6" x2="475.7" y2="341.6" stroke="#111" stroke-width="1.0" />
<rect x="486.9" y="355.8" width="7.0" height="17.30000000000001" fill="#0a30c0" stroke="none" stroke-width="1" />
<line x1="490.4" y1="355.8" x2="490.4" y2="354.6" stroke="#111" stroke-width="0.9" />
<line x1="488.2" y1="354.6" x2="492.59999999999997" y2="354.6" stroke="#111" stroke-width="1.0" />
<rect x="497.3" y="354.2" width="7.199999999999989" height="18.900000000000034" fill="#d2101c" stroke="none" stroke-width="1" />
<line x1="500.9" y1="354.2" x2="500.9" y2="353" stroke="#111" stroke-width="0.9" />
<line x1="498.7" y1="353" x2="503.09999999999997" y2="353" stroke="#111" stroke-width="1.0" />
<text x="412" y="385.6" font-size="7.8" font-weight="normal" text-anchor="middle" fill="#111"  stroke="#111" stroke-width="0.12">Pro</text>
<text x="440" y="385.6" font-size="7.8" font-weight="normal" text-anchor="middle" fill="#111"  stroke="#111" stroke-width="0.12">Baso</text>
<text x="467.5" y="385.6" font-size="7.8" font-weight="normal" text-anchor="middle" fill="#111"  stroke="#111" stroke-width="0.12">Poly</text>
<text x="495.5" y="385.6" font-size="7.8" font-weight="normal" text-anchor="middle" fill="#111"  stroke="#111" stroke-width="0.12">Ortho</text>
<rect x="459.5" y="299.6" width="7.6" height="4.4" fill="#0a30c0" stroke="none" stroke-width="1" />
<text x="470" y="304.3" font-size="6.3" font-weight="bold" text-anchor="start" fill="#000" >BM</text>
<rect x="459.5" y="308.8" width="7.6" height="4.4" fill="#d2101c" stroke="none" stroke-width="1" />
<text x="470" y="313.5" font-size="6.3" font-weight="bold" text-anchor="start" fill="#000" >FL</text>
</g>
<!-- frame -->
<rect x="0.5" y="0.5" width="519" height="392" fill="none" stroke="#000" stroke-width="1.6"/>
</svg>
</body></html>
